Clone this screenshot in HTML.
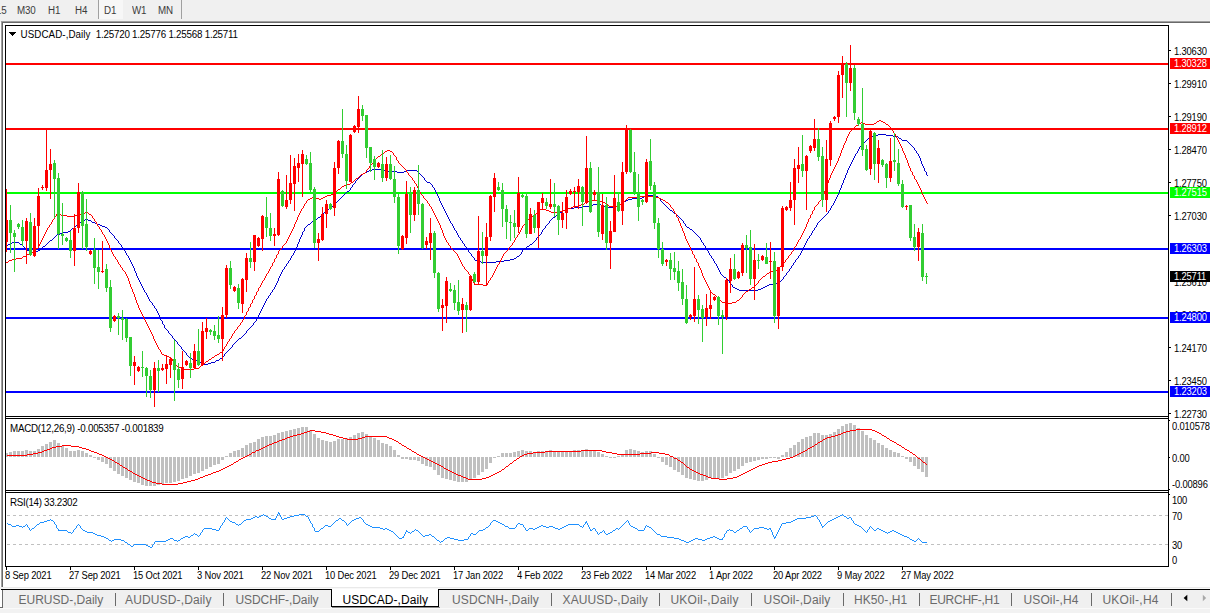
<!DOCTYPE html>
<html><head><meta charset="utf-8"><title>USDCAD-,Daily</title>
<style>
html,body{margin:0;padding:0}
body{width:1210px;height:613px;background:#f0f0f0;position:relative;overflow:hidden;font-family:"Liberation Sans",sans-serif}
.win{position:absolute;left:3px;top:23px;width:1207px;height:564px;background:#fff}
.bl{position:absolute;left:1px;top:21px;width:1px;height:566px;background:#a0a0a0}
.bl2{position:absolute;left:2px;top:22px;width:1px;height:565px;background:#696969}
.bt{position:absolute;left:1px;top:21px;width:1209px;height:1px;background:#a0a0a0}
.bt2{position:absolute;left:2px;top:22px;width:1208px;height:1px;background:#696969}
.t{position:absolute;white-space:nowrap;color:#000;line-height:12px;transform:scaleY(1.1667);transform-origin:0 0}
.ax{font-size:9.4px;letter-spacing:-0.16px}
.ttl{font-size:9.6px}
.dt{font-size:9.4px;letter-spacing:-0.15px}
.box{position:absolute;left:1170px;width:40px;height:11px;font-size:9.4px;letter-spacing:-0.16px;line-height:11px}
.box span{position:absolute;left:4px;top:-2.5px;transform:scaleY(1.1667);transform-origin:0 0}
.tb{position:absolute;top:1.5px;transform:scaleY(1.1667);transform-origin:0 0;font-size:9.8px;letter-spacing:-0.2px;line-height:13px;color:#3c3c3c}
.tsep{position:absolute;top:0;width:1px;height:19px;background:#a0a0a0}
.d1{position:absolute;left:99px;top:0;width:24px;height:19px;background:#f7f7f7}
.tabbar{position:absolute;left:0;top:589px;width:1210px;height:24px;background:#f0f0f0}
.tabline{position:absolute;left:1px;top:589px;width:1209px;height:1px;background:#000}
.tab{position:absolute;top:593px;font-size:12px;line-height:14px;color:#6a6a6a;white-space:nowrap}
.tab.act{color:#000}
.sep{position:absolute;top:593px;width:1px;height:13px;background:#6a6a6a}
.acttab{position:absolute;left:331px;top:589px;width:108px;height:18px;background:#fff;border-left:1px solid #000;border-right:1px solid #000;border-bottom:1px solid #000;box-sizing:border-box}
.actsh{position:absolute;left:332px;top:607px;width:108px;height:1px;background:#8c8c8c}
.tl1{position:absolute;left:0;top:590px;width:2px;height:17px;background:#fff}
.tl2{position:absolute;left:2px;top:590px;width:1px;height:18px;background:#696969}
.tl3{position:absolute;left:0;top:607px;width:3px;height:1px;background:#696969}
.botstrip{position:absolute;left:0;top:608px;width:1210px;height:5px;background:#f2f2f2;border-top:1px solid #fafafa;box-sizing:border-box}
.g587{position:absolute;left:3px;top:587px;width:1207px;height:1px;background:#e9e9e9}
.g588{position:absolute;left:3px;top:588px;width:1207px;height:1px;background:#f8f8f8}
</style></head><body>
<div class="d1"></div>
<div class="tsep" style="left:98px"></div><div class="tsep" style="left:181px"></div>
<div class="tb" style="left:-4px">15</div><div class="tb" style="left:17px">M30</div><div class="tb" style="left:48px">H1</div><div class="tb" style="left:75px">H4</div><div class="tb" style="left:104px">D1</div><div class="tb" style="left:132px">W1</div><div class="tb" style="left:158px">MN</div>
<div style="position:absolute;left:0;top:22px;width:1px;height:565px;background:#fff"></div><div class="bt"></div><div class="bt2"></div><div class="bl"></div><div class="bl2"></div>
<div class="win"></div>
<div class="tabbar"></div><div class="tabline"></div><div class="acttab"></div><div class="actsh"></div><div class="tl1"></div><div class="tl2"></div><div class="tl3"></div>
<div class="sep" style="left:115px"></div><div class="sep" style="left:223px"></div><div class="sep" style="left:551px"></div><div class="sep" style="left:659px"></div><div class="sep" style="left:751px"></div><div class="sep" style="left:843px"></div><div class="sep" style="left:919px"></div><div class="sep" style="left:1011px"></div><div class="sep" style="left:1091px"></div><div class="sep" style="left:1171px"></div><div class="tab" style="left:18.5px;letter-spacing:0.009px">EURUSD-,Daily</div><div class="tab" style="left:125px;letter-spacing:0.147px">AUDUSD-,Daily</div><div class="tab" style="left:235.5px;letter-spacing:-0.077px">USDCHF-,Daily</div><div class="tab act" style="left:342.4px;letter-spacing:0.070px">USDCAD-,Daily</div><div class="tab" style="left:452px;letter-spacing:0.120px">USDCNH-,Daily</div><div class="tab" style="left:562.6px;letter-spacing:0.099px">XAUUSD-,Daily</div><div class="tab" style="left:670.4px;letter-spacing:0.255px">UKOil-,Daily</div><div class="tab" style="left:763.6px;letter-spacing:0.121px">USOil-,Daily</div><div class="tab" style="left:853.9px;letter-spacing:0.102px">HK50-,H1</div><div class="tab" style="left:929.5px;letter-spacing:-0.277px">EURCHF-,H1</div><div class="tab" style="left:1023.5px;letter-spacing:0.120px">USOil-,H4</div><div class="tab" style="left:1102.4px;letter-spacing:0.265px">UKOil-,H4</div>
<div class="botstrip"></div>
<div class="g587"></div><div class="g588"></div>
<svg width="1210" height="613" style="position:absolute;left:0;top:0" shape-rendering="crispEdges"><rect x="5" y="25" width="1" height="542" fill="#000"/><rect x="5" y="25" width="1164" height="1" fill="#000"/><rect x="1168" y="25" width="1" height="542" fill="#000"/><rect x="5" y="416" width="1164" height="1" fill="#000"/><rect x="5" y="418" width="1164" height="1" fill="#000"/><rect x="5" y="490" width="1164" height="1" fill="#000"/><rect x="5" y="492" width="1164" height="1" fill="#000"/><rect x="5" y="566" width="1164" height="1" fill="#000"/><rect x="6" y="63" width="1162" height="2" fill="#ff0000"/><rect x="6" y="128" width="1162" height="2" fill="#ff0000"/><rect x="6" y="192" width="1162" height="2" fill="#00ff00"/><rect x="6" y="248" width="1162" height="2" fill="#0000ff"/><rect x="6" y="317" width="1162" height="2" fill="#0000ff"/><rect x="6" y="391" width="1162" height="2" fill="#0000ff"/><path d="M131 262h1v1h-1zM288 262h1v1h-1zM481 262h15v1h-15zM714 262h1v1h-1zM794 262h1v1h-1zM367 171h2v1h-2zM388 171h9v1h-9zM404 171h2v1h-2zM417 171h1v1h-1zM847 171h1v1h-1zM925 171h1v1h-1zM56 235h1v1h-1zM113 235h1v1h-1zM301 235h1v1h-1zM458 235h1v1h-1zM539 235h1v1h-1zM697 235h1v1h-1zM810 235h1v1h-1zM127 255h1v1h-1zM292 255h1v1h-1zM471 255h1v1h-1zM519 255h1v1h-1zM710 255h1v1h-1zM799 255h1v1h-1zM850 164h1v1h-1zM922 164h1v1h-1zM143 289h1v1h-1zM273 289h1v1h-1zM737 289h2v1h-2zM758 289h3v1h-3zM343 195h1v1h-1zM437 195h1v1h-1zM646 195h9v1h-9zM837 195h1v1h-1zM130 260h1v1h-1zM289 260h1v1h-1zM475 260h2v1h-2zM504 260h6v1h-6zM713 260h1v1h-1zM795 260h1v1h-1zM10 243h2v1h-2zM19 243h1v1h-1zM47 243h1v1h-1zM119 243h1v1h-1zM298 243h1v1h-1zM463 243h1v1h-1zM532 243h1v1h-1zM703 243h1v1h-1zM805 243h1v1h-1zM184 351h1v1h-1zM227 351h1v1h-1zM54 237h1v1h-1zM114 237h1v1h-1zM300 237h1v1h-1zM459 237h1v1h-1zM537 237h1v1h-1zM699 237h1v1h-1zM809 237h1v1h-1zM162 323h1v1h-1zM253 323h1v1h-1zM318 217h2v1h-2zM448 217h1v1h-1zM553 217h2v1h-2zM679 217h1v1h-1zM823 217h1v1h-1zM330 207h1v1h-1zM443 207h1v1h-1zM574 207h9v1h-9zM605 207h9v1h-9zM667 207h1v1h-1zM831 207h1v1h-1zM326 210h1v1h-1zM444 210h1v1h-1zM563 210h3v1h-3zM670 210h2v1h-2zM829 210h1v1h-1zM165 328h1v1h-1zM249 328h1v1h-1zM85 219h3v1h-3zM316 219h1v1h-1zM449 219h1v1h-1zM551 219h1v1h-1zM681 219h1v1h-1zM821 219h1v1h-1zM140 283h1v1h-1zM276 283h1v1h-1zM730 283h1v1h-1zM773 283h4v1h-4zM144 290h1v1h-1zM272 290h1v1h-1zM739 290h19v1h-19zM369 170h3v1h-3zM384 170h4v1h-4zM406 170h11v1h-11zM847 170h1v1h-1zM924 170h1v1h-1zM182 349h1v1h-1zM229 349h1v1h-1zM340 198h1v1h-1zM439 198h1v1h-1zM632 198h10v1h-10zM659 198h1v1h-1zM836 198h1v1h-1zM128 256h1v1h-1zM291 256h1v1h-1zM472 256h1v1h-1zM517 256h2v1h-2zM711 256h1v1h-1zM798 256h1v1h-1zM360 176h1v1h-1zM422 176h1v1h-1zM845 176h1v1h-1zM357 179h1v1h-1zM424 179h1v1h-1zM844 179h1v1h-1zM142 286h1v1h-1zM275 286h1v1h-1zM732 286h1v1h-1zM765 286h2v1h-2zM861 145h1v1h-1zM911 145h1v1h-1zM197 361h3v1h-3zM215 361h1v1h-1zM156 310h1v1h-1zM261 310h1v1h-1zM53 238h1v1h-1zM115 238h1v1h-1zM300 238h1v1h-1zM460 238h1v1h-1zM536 238h1v1h-1zM700 238h1v1h-1zM808 238h1v1h-1zM142 287h1v1h-1zM274 287h1v1h-1zM733 287h2v1h-2zM763 287h2v1h-2zM320 216h1v1h-1zM447 216h1v1h-1zM555 216h1v1h-1zM678 216h1v1h-1zM824 216h1v1h-1zM129 258h1v1h-1zM290 258h1v1h-1zM474 258h1v1h-1zM514 258h2v1h-2zM712 258h1v1h-1zM797 258h1v1h-1zM78 223h2v1h-2zM95 223h2v1h-2zM310 223h1v1h-1zM451 223h1v1h-1zM548 223h1v1h-1zM684 223h1v1h-1zM817 223h1v1h-1zM874 135h4v1h-4zM886 135h7v1h-7zM163 324h1v1h-1zM253 324h1v1h-1zM331 206h2v1h-2zM442 206h1v1h-1zM583 206h6v1h-6zM602 206h3v1h-3zM614 206h3v1h-3zM666 206h1v1h-1zM831 206h1v1h-1zM81 221h1v1h-1zM91 221h1v1h-1zM312 221h2v1h-2zM450 221h1v1h-1zM549 221h1v1h-1zM683 221h1v1h-1zM819 221h1v1h-1zM363 173h2v1h-2zM419 173h1v1h-1zM846 173h1v1h-1zM926 173h1v1h-1zM329 208h1v1h-1zM443 208h1v1h-1zM567 208h7v1h-7zM668 208h1v1h-1zM830 208h1v1h-1zM871 136h3v1h-3zM893 136h5v1h-5zM57 234h3v1h-3zM112 234h1v1h-1zM302 234h1v1h-1zM457 234h1v1h-1zM540 234h1v1h-1zM696 234h1v1h-1zM811 234h1v1h-1zM190 358h2v1h-2zM220 358h2v1h-2zM187 355h1v1h-1zM224 355h1v1h-1zM139 281h1v1h-1zM277 281h1v1h-1zM729 281h1v1h-1zM779 281h2v1h-2zM338 200h1v1h-1zM439 200h1v1h-1zM626 200h2v1h-2zM660 200h1v1h-1zM835 200h1v1h-1zM29 251h1v1h-1zM34 251h4v1h-4zM125 251h1v1h-1zM294 251h1v1h-1zM468 251h1v1h-1zM522 251h1v1h-1zM708 251h1v1h-1zM801 251h1v1h-1zM333 205h1v1h-1zM442 205h1v1h-1zM589 205h4v1h-4zM601 205h1v1h-1zM617 205h2v1h-2zM665 205h1v1h-1zM832 205h1v1h-1zM134 268h1v1h-1zM284 268h1v1h-1zM718 268h1v1h-1zM790 268h1v1h-1zM74 227h1v1h-1zM105 227h2v1h-2zM305 227h1v1h-1zM453 227h1v1h-1zM545 227h1v1h-1zM687 227h2v1h-2zM815 227h1v1h-1zM862 144h1v1h-1zM910 144h1v1h-1zM183 350h1v1h-1zM228 350h1v1h-1zM202 363h2v1h-2zM208 363h3v1h-3zM55 236h1v1h-1zM114 236h1v1h-1zM301 236h1v1h-1zM458 236h1v1h-1zM538 236h1v1h-1zM698 236h1v1h-1zM809 236h1v1h-1zM160 317h1v1h-1zM257 317h1v1h-1zM362 174h1v1h-1zM420 174h1v1h-1zM846 174h1v1h-1zM926 174h1v1h-1zM335 203h1v1h-1zM441 203h1v1h-1zM621 203h2v1h-2zM663 203h1v1h-1zM833 203h1v1h-1zM137 277h1v1h-1zM279 277h1v1h-1zM724 277h2v1h-2zM783 277h1v1h-1zM6 245h2v1h-2zM22 245h1v1h-1zM45 245h1v1h-1zM121 245h1v1h-1zM297 245h1v1h-1zM464 245h1v1h-1zM529 245h1v1h-1zM704 245h1v1h-1zM804 245h1v1h-1zM868 138h2v1h-2zM899 138h2v1h-2zM136 274h1v1h-1zM280 274h1v1h-1zM721 274h1v1h-1zM786 274h1v1h-1zM194 360h3v1h-3zM216 360h3v1h-3zM128 257h1v1h-1zM291 257h1v1h-1zM473 257h1v1h-1zM516 257h1v1h-1zM711 257h1v1h-1zM798 257h1v1h-1zM63 232h5v1h-5zM110 232h1v1h-1zM302 232h1v1h-1zM456 232h1v1h-1zM541 232h1v1h-1zM694 232h1v1h-1zM812 232h1v1h-1zM77 224h1v1h-1zM97 224h3v1h-3zM308 224h2v1h-2zM452 224h1v1h-1zM547 224h1v1h-1zM685 224h1v1h-1zM817 224h1v1h-1zM23 246h1v1h-1zM43 246h2v1h-2zM121 246h1v1h-1zM297 246h1v1h-1zM465 246h1v1h-1zM527 246h2v1h-2zM705 246h1v1h-1zM804 246h1v1h-1zM341 197h1v1h-1zM438 197h1v1h-1zM642 197h2v1h-2zM658 197h1v1h-1zM836 197h1v1h-1zM80 222h1v1h-1zM92 222h3v1h-3zM311 222h1v1h-1zM450 222h1v1h-1zM549 222h1v1h-1zM683 222h1v1h-1zM818 222h1v1h-1zM26 249h1v1h-1zM40 249h1v1h-1zM124 249h1v1h-1zM295 249h1v1h-1zM467 249h1v1h-1zM523 249h1v1h-1zM706 249h1v1h-1zM802 249h1v1h-1zM179 345h1v1h-1zM232 345h1v1h-1zM126 254h1v1h-1zM293 254h1v1h-1zM471 254h1v1h-1zM520 254h1v1h-1zM709 254h1v1h-1zM800 254h1v1h-1zM27 250h2v1h-2zM38 250h2v1h-2zM124 250h1v1h-1zM295 250h1v1h-1zM468 250h1v1h-1zM522 250h1v1h-1zM707 250h1v1h-1zM802 250h1v1h-1zM204 364h4v1h-4zM850 165h1v1h-1zM922 165h1v1h-1zM161 320h1v1h-1zM256 320h1v1h-1zM866 140h1v1h-1zM902 140h5v1h-5zM359 177h1v1h-1zM423 177h1v1h-1zM845 177h1v1h-1zM865 141h1v1h-1zM907 141h1v1h-1zM327 209h2v1h-2zM444 209h1v1h-1zM566 209h1v1h-1zM669 209h1v1h-1zM830 209h1v1h-1zM141 285h1v1h-1zM275 285h1v1h-1zM732 285h1v1h-1zM767 285h2v1h-2zM82 220h3v1h-3zM88 220h3v1h-3zM314 220h2v1h-2zM449 220h1v1h-1zM550 220h1v1h-1zM682 220h1v1h-1zM820 220h1v1h-1zM358 178h1v1h-1zM424 178h1v1h-1zM844 178h1v1h-1zM12 242h7v1h-7zM48 242h1v1h-1zM118 242h1v1h-1zM298 242h1v1h-1zM462 242h1v1h-1zM533 242h1v1h-1zM702 242h1v1h-1zM806 242h1v1h-1zM321 215h1v1h-1zM447 215h1v1h-1zM556 215h1v1h-1zM677 215h1v1h-1zM825 215h1v1h-1zM52 239h1v1h-1zM116 239h1v1h-1zM299 239h1v1h-1zM460 239h1v1h-1zM536 239h1v1h-1zM700 239h1v1h-1zM807 239h1v1h-1zM353 184h1v1h-1zM431 184h1v1h-1zM842 184h1v1h-1zM147 296h1v1h-1zM268 296h1v1h-1zM342 196h1v1h-1zM438 196h1v1h-1zM644 196h2v1h-2zM655 196h3v1h-3zM837 196h1v1h-1zM355 182h1v1h-1zM427 182h3v1h-3zM843 182h1v1h-1zM200 362h2v1h-2zM211 362h4v1h-4zM372 169h12v1h-12zM848 169h1v1h-1zM924 169h1v1h-1zM132 264h1v1h-1zM286 264h1v1h-1zM716 264h1v1h-1zM793 264h1v1h-1zM186 354h1v1h-1zM224 354h1v1h-1zM130 261h1v1h-1zM288 261h1v1h-1zM477 261h4v1h-4zM496 261h8v1h-8zM714 261h1v1h-1zM795 261h1v1h-1zM71 229h1v1h-1zM108 229h1v1h-1zM304 229h1v1h-1zM454 229h1v1h-1zM543 229h1v1h-1zM690 229h2v1h-2zM814 229h1v1h-1zM324 212h1v1h-1zM445 212h1v1h-1zM560 212h2v1h-2zM673 212h1v1h-1zM828 212h1v1h-1zM350 188h1v1h-1zM434 188h1v1h-1zM840 188h1v1h-1zM365 172h2v1h-2zM397 172h7v1h-7zM418 172h1v1h-1zM847 172h1v1h-1zM926 172h1v1h-1zM129 259h1v1h-1zM290 259h1v1h-1zM474 259h1v1h-1zM510 259h4v1h-4zM713 259h1v1h-1zM796 259h1v1h-1zM166 329h1v1h-1zM248 329h1v1h-1zM30 252h4v1h-4zM125 252h1v1h-1zM294 252h1v1h-1zM469 252h1v1h-1zM521 252h1v1h-1zM708 252h1v1h-1zM801 252h1v1h-1zM135 272h1v1h-1zM281 272h1v1h-1zM720 272h1v1h-1zM787 272h1v1h-1zM70 230h1v1h-1zM109 230h1v1h-1zM304 230h1v1h-1zM455 230h1v1h-1zM542 230h1v1h-1zM692 230h1v1h-1zM813 230h1v1h-1zM25 248h1v1h-1zM41 248h1v1h-1zM123 248h1v1h-1zM296 248h1v1h-1zM466 248h1v1h-1zM524 248h2v1h-2zM706 248h1v1h-1zM803 248h1v1h-1zM126 253h1v1h-1zM293 253h1v1h-1zM470 253h1v1h-1zM521 253h1v1h-1zM709 253h1v1h-1zM800 253h1v1h-1zM351 187h1v1h-1zM433 187h1v1h-1zM841 187h1v1h-1zM164 326h1v1h-1zM251 326h1v1h-1zM157 312h1v1h-1zM260 312h1v1h-1zM72 228h2v1h-2zM107 228h1v1h-1zM304 228h1v1h-1zM454 228h1v1h-1zM544 228h1v1h-1zM689 228h1v1h-1zM814 228h1v1h-1zM136 273h1v1h-1zM281 273h1v1h-1zM720 273h1v1h-1zM786 273h1v1h-1zM141 284h1v1h-1zM276 284h1v1h-1zM731 284h1v1h-1zM769 284h4v1h-4zM336 202h1v1h-1zM440 202h1v1h-1zM623 202h1v1h-1zM662 202h1v1h-1zM834 202h1v1h-1zM361 175h1v1h-1zM421 175h1v1h-1zM845 175h1v1h-1zM927 175h1v1h-1zM160 319h1v1h-1zM256 319h1v1h-1zM168 332h1v1h-1zM246 332h1v1h-1zM49 241h1v1h-1zM118 241h1v1h-1zM299 241h1v1h-1zM462 241h1v1h-1zM534 241h1v1h-1zM701 241h1v1h-1zM806 241h1v1h-1zM171 335h1v1h-1zM243 335h1v1h-1zM852 161h1v1h-1zM921 161h1v1h-1zM137 276h1v1h-1zM279 276h1v1h-1zM723 276h1v1h-1zM784 276h1v1h-1zM334 204h1v1h-1zM441 204h1v1h-1zM593 204h8v1h-8zM619 204h2v1h-2zM664 204h1v1h-1zM833 204h1v1h-1zM858 149h1v1h-1zM914 149h1v1h-1zM75 226h1v1h-1zM102 226h3v1h-3zM306 226h1v1h-1zM453 226h1v1h-1zM545 226h1v1h-1zM686 226h1v1h-1zM816 226h1v1h-1zM176 341h1v1h-1zM236 341h1v1h-1zM175 340h1v1h-1zM237 340h1v1h-1zM144 291h1v1h-1zM272 291h1v1h-1zM323 213h1v1h-1zM446 213h1v1h-1zM559 213h1v1h-1zM674 213h2v1h-2zM827 213h1v1h-1zM68 231h2v1h-2zM109 231h1v1h-1zM303 231h1v1h-1zM456 231h1v1h-1zM542 231h1v1h-1zM693 231h1v1h-1zM812 231h1v1h-1zM139 280h1v1h-1zM278 280h1v1h-1zM728 280h1v1h-1zM781 280h1v1h-1zM50 240h2v1h-2zM117 240h1v1h-1zM299 240h1v1h-1zM461 240h1v1h-1zM535 240h1v1h-1zM701 240h1v1h-1zM807 240h1v1h-1zM860 146h1v1h-1zM912 146h1v1h-1zM131 263h1v1h-1zM287 263h1v1h-1zM715 263h1v1h-1zM793 263h1v1h-1zM852 160h1v1h-1zM920 160h1v1h-1zM325 211h1v1h-1zM445 211h1v1h-1zM562 211h1v1h-1zM672 211h1v1h-1zM828 211h1v1h-1zM347 191h2v1h-2zM435 191h1v1h-1zM839 191h1v1h-1zM337 201h1v1h-1zM440 201h1v1h-1zM624 201h2v1h-2zM661 201h1v1h-1zM834 201h1v1h-1zM143 288h1v1h-1zM274 288h1v1h-1zM735 288h2v1h-2zM761 288h2v1h-2zM135 271h1v1h-1zM282 271h1v1h-1zM719 271h1v1h-1zM788 271h1v1h-1zM76 225h1v1h-1zM100 225h2v1h-2zM307 225h1v1h-1zM452 225h1v1h-1zM546 225h1v1h-1zM685 225h1v1h-1zM816 225h1v1h-1zM164 325h1v1h-1zM252 325h1v1h-1zM149 300h1v1h-1zM266 300h1v1h-1zM134 270h1v1h-1zM282 270h1v1h-1zM719 270h1v1h-1zM789 270h1v1h-1zM160 318h1v1h-1zM257 318h1v1h-1zM173 338h1v1h-1zM239 338h2v1h-2zM150 301h1v1h-1zM265 301h1v1h-1zM181 347h1v1h-1zM231 347h1v1h-1zM849 167h1v1h-1zM923 167h1v1h-1zM878 134h8v1h-8zM154 307h1v1h-1zM262 307h1v1h-1zM185 352h1v1h-1zM226 352h1v1h-1zM140 282h1v1h-1zM277 282h1v1h-1zM729 282h1v1h-1zM777 282h2v1h-2zM322 214h1v1h-1zM446 214h1v1h-1zM557 214h2v1h-2zM676 214h1v1h-1zM826 214h1v1h-1zM186 353h1v1h-1zM225 353h1v1h-1zM192 359h2v1h-2zM219 359h1v1h-1zM853 159h1v1h-1zM920 159h1v1h-1zM8 244h2v1h-2zM20 244h2v1h-2zM46 244h1v1h-1zM120 244h1v1h-1zM297 244h1v1h-1zM464 244h1v1h-1zM530 244h2v1h-2zM703 244h1v1h-1zM805 244h1v1h-1zM168 331h1v1h-1zM246 331h1v1h-1zM317 218h1v1h-1zM448 218h1v1h-1zM552 218h1v1h-1zM680 218h1v1h-1zM822 218h1v1h-1zM188 356h1v1h-1zM223 356h1v1h-1zM859 147h1v1h-1zM913 147h1v1h-1zM864 142h1v1h-1zM908 142h1v1h-1zM857 152h1v1h-1zM916 152h1v1h-1zM349 190h1v1h-1zM435 190h1v1h-1zM839 190h1v1h-1zM856 153h1v1h-1zM917 153h1v1h-1zM177 343h1v1h-1zM234 343h1v1h-1zM355 181h1v1h-1zM426 181h1v1h-1zM843 181h1v1h-1zM859 148h1v1h-1zM914 148h1v1h-1zM149 299h1v1h-1zM266 299h1v1h-1zM178 344h1v1h-1zM233 344h1v1h-1zM138 278h1v1h-1zM278 278h1v1h-1zM726 278h1v1h-1zM783 278h1v1h-1zM339 199h1v1h-1zM439 199h1v1h-1zM628 199h4v1h-4zM660 199h1v1h-1zM835 199h1v1h-1zM855 155h1v1h-1zM918 155h1v1h-1zM24 247h1v1h-1zM42 247h1v1h-1zM122 247h1v1h-1zM296 247h1v1h-1zM466 247h1v1h-1zM526 247h1v1h-1zM705 247h1v1h-1zM803 247h1v1h-1zM356 180h1v1h-1zM425 180h1v1h-1zM843 180h1v1h-1zM167 330h1v1h-1zM247 330h1v1h-1zM148 298h1v1h-1zM267 298h1v1h-1zM60 233h3v1h-3zM111 233h1v1h-1zM302 233h1v1h-1zM457 233h1v1h-1zM541 233h1v1h-1zM695 233h1v1h-1zM811 233h1v1h-1zM134 269h1v1h-1zM283 269h1v1h-1zM718 269h1v1h-1zM789 269h1v1h-1zM853 158h1v1h-1zM920 158h1v1h-1zM147 295h1v1h-1zM269 295h1v1h-1zM132 265h1v1h-1zM286 265h1v1h-1zM716 265h1v1h-1zM792 265h1v1h-1zM152 304h1v1h-1zM264 304h1v1h-1zM851 162h1v1h-1zM921 162h1v1h-1zM164 327h1v1h-1zM250 327h1v1h-1zM857 151h1v1h-1zM916 151h1v1h-1zM145 292h1v1h-1zM271 292h1v1h-1zM352 185h1v1h-1zM432 185h1v1h-1zM841 185h1v1h-1zM177 342h1v1h-1zM235 342h1v1h-1zM345 193h1v1h-1zM436 193h1v1h-1zM838 193h1v1h-1zM151 302h1v1h-1zM265 302h1v1h-1zM162 322h1v1h-1zM254 322h1v1h-1zM346 192h1v1h-1zM436 192h1v1h-1zM839 192h1v1h-1zM855 154h1v1h-1zM918 154h1v1h-1zM156 309h1v1h-1zM261 309h1v1h-1zM854 157h1v1h-1zM919 157h1v1h-1zM159 316h1v1h-1zM258 316h1v1h-1zM133 266h1v1h-1zM285 266h1v1h-1zM717 266h1v1h-1zM791 266h1v1h-1zM148 297h1v1h-1zM268 297h1v1h-1zM169 333h1v1h-1zM245 333h1v1h-1zM181 348h1v1h-1zM230 348h1v1h-1zM352 186h1v1h-1zM432 186h1v1h-1zM841 186h1v1h-1zM174 339h1v1h-1zM238 339h1v1h-1zM172 336h1v1h-1zM242 336h1v1h-1zM858 150h1v1h-1zM915 150h1v1h-1zM867 139h1v1h-1zM901 139h1v1h-1zM344 194h1v1h-1zM437 194h1v1h-1zM838 194h1v1h-1zM133 267h1v1h-1zM284 267h1v1h-1zM717 267h1v1h-1zM791 267h1v1h-1zM162 321h1v1h-1zM255 321h1v1h-1zM158 314h1v1h-1zM259 314h1v1h-1zM354 183h1v1h-1zM430 183h1v1h-1zM842 183h1v1h-1zM854 156h1v1h-1zM919 156h1v1h-1zM870 137h1v1h-1zM898 137h1v1h-1zM157 311h1v1h-1zM260 311h1v1h-1zM172 337h1v1h-1zM241 337h1v1h-1zM146 294h1v1h-1zM270 294h1v1h-1zM138 279h1v1h-1zM278 279h1v1h-1zM727 279h1v1h-1zM782 279h1v1h-1zM350 189h1v1h-1zM434 189h1v1h-1zM840 189h1v1h-1zM153 305h1v1h-1zM263 305h1v1h-1zM152 303h1v1h-1zM264 303h1v1h-1zM170 334h1v1h-1zM244 334h1v1h-1zM136 275h1v1h-1zM280 275h1v1h-1zM722 275h1v1h-1zM785 275h1v1h-1zM146 293h1v1h-1zM270 293h1v1h-1zM154 306h1v1h-1zM263 306h1v1h-1zM849 166h1v1h-1zM923 166h1v1h-1zM189 357h1v1h-1zM222 357h1v1h-1zM851 163h1v1h-1zM921 163h1v1h-1zM180 346h1v1h-1zM232 346h1v1h-1zM848 168h1v1h-1zM924 168h1v1h-1zM863 143h1v1h-1zM909 143h1v1h-1zM158 313h1v1h-1zM259 313h1v1h-1zM159 315h1v1h-1zM258 315h1v1h-1zM155 308h1v1h-1zM262 308h1v1h-1z" fill="#0000cd"/><path d="M521 228h1v2h-1zM412 178h1v2h-1zM874 123h1v1h-1zM652 196h1v1h-1zM66 215h1v1h-1zM822 197h1v2h-1zM416 184h1v2h-1zM571 207h1v1h-1zM517 235h1v2h-1zM466 270h1v1h-1zM277 254h1v1h-1zM717 297h1v1h-1zM233 333h1v1h-1zM467 271h1v1h-1zM54 217h1v2h-1zM175 363h1v2h-1zM802 233h1v2h-1zM917 182h1v2h-1zM814 207h1v3h-1zM176 365h1v1h-1zM560 211h1v1h-1zM438 221h1v2h-1zM839 156h1v2h-1zM885 123h1v1h-1zM851 130h1v1h-1zM798 240h1v2h-1zM662 199h1v1h-1zM896 136h1v2h-1zM740 298h1v1h-1zM505 252h1v1h-1zM241 322h1v1h-1zM899 142h1v2h-1zM925 199h1v2h-1zM394 155h1v1h-1zM520 230h1v2h-1zM386 151h1v1h-1zM540 209h1v1h-1zM680 223h1v3h-1zM794 247h1v2h-1zM617 205h1v1h-1zM709 288h1v2h-1zM501 258h1v2h-1zM681 226h1v2h-1zM712 293h1v1h-1zM127 276h1v2h-1zM713 294h1v1h-1zM746 291h1v1h-1zM128 278h1v3h-1zM232 334h1v2h-1zM910 168h1v3h-1zM687 241h1v2h-1zM134 294h1v3h-1zM589 200h1v1h-1zM272 263h1v3h-1zM131 287h1v2h-1zM84 213h1v1h-1zM558 212h1v1h-1zM350 183h1v1h-1zM785 260h1v2h-1zM590 200h1v1h-1zM138 305h1v3h-1zM694 255h1v3h-1zM698 263h1v3h-1zM738 300h1v1h-1zM80 214h1v1h-1zM837 161h1v2h-1zM29 254h1v1h-1zM619 204h1v1h-1zM451 248h1v1h-1zM25 256h1v1h-1zM308 199h1v1h-1zM777 269h1v1h-1zM145 320h1v2h-1zM846 138h1v3h-1zM615 206h1v1h-1zM291 231h1v2h-1zM793 249h1v2h-1zM500 260h1v2h-1zM719 299h1v1h-1zM358 177h1v1h-1zM41 240h1v2h-1zM634 197h1v1h-1zM592 200h1v1h-1zM857 125h1v1h-1zM177 366h1v1h-1zM373 161h1v2h-1zM436 217h1v2h-1zM496 267h1v2h-1zM784 262h1v1h-1zM761 278h1v1h-1zM108 243h1v2h-1zM283 245h1v1h-1zM443 233h1v3h-1zM926 201h1v2h-1zM898 140h1v2h-1zM581 204h1v1h-1zM109 245h1v3h-1zM927 203h1v1h-1zM267 273h1v1h-1zM396 157h1v3h-1zM836 163h1v2h-1zM729 303h1v1h-1zM338 189h1v1h-1zM250 304h1v3h-1zM807 222h1v2h-1zM707 284h1v2h-1zM905 155h1v3h-1zM753 287h1v1h-1zM263 280h1v1h-1zM832 171h1v2h-1zM126 274h1v2h-1zM276 255h1v3h-1zM180 367h1v1h-1zM428 203h1v1h-1zM637 197h1v1h-1zM246 312h1v3h-1zM499 262h1v2h-1zM169 357h1v1h-1zM377 157h1v1h-1zM40 242h1v2h-1zM429 204h1v2h-1zM912 172h1v3h-1zM93 218h1v1h-1zM804 229h1v2h-1zM259 287h1v1h-1zM526 221h1v2h-1zM162 354h1v1h-1zM97 224h1v2h-1zM35 249h1v1h-1zM625 200h1v1h-1zM207 361h1v1h-1zM495 269h1v2h-1zM696 259h1v3h-1zM282 246h1v2h-1zM622 203h1v1h-1zM340 188h1v1h-1zM238 326h1v1h-1zM143 316h1v2h-1zM491 277h1v1h-1zM875 123h1v1h-1zM703 276h1v2h-1zM453 250h1v1h-1zM572 207h1v1h-1zM648 196h1v1h-1zM610 206h1v1h-1zM831 173h1v2h-1zM262 281h1v2h-1zM154 339h1v2h-1zM556 212h1v1h-1zM803 231h1v2h-1zM258 288h1v3h-1zM815 206h1v1h-1zM107 241h1v2h-1zM799 239h1v1h-1zM139 308h1v2h-1zM254 296h1v3h-1zM541 209h1v1h-1zM903 151h1v2h-1zM237 327h1v2h-1zM383 153h1v1h-1zM537 211h1v2h-1zM294 224h1v3h-1zM613 206h1v1h-1zM724 302h1v1h-1zM714 294h1v1h-1zM747 291h1v1h-1zM430 206h1v1h-1zM213 357h1v1h-1zM559 212h1v1h-1zM96 222h1v2h-1zM99 227h1v2h-1zM49 225h1v2h-1zM591 200h1v1h-1zM509 247h1v1h-1zM850 131h1v1h-1zM921 190h1v3h-1zM81 214h1v1h-1zM504 253h1v1h-1zM810 215h1v3h-1zM45 232h1v2h-1zM702 273h1v3h-1zM673 209h1v2h-1zM68 216h1v1h-1zM677 217h1v1h-1zM309 199h1v1h-1zM252 300h1v3h-1zM727 303h1v1h-1zM835 165h1v2h-1zM26 255h1v1h-1zM778 268h1v1h-1zM616 206h1v1h-1zM459 258h1v2h-1zM456 253h1v1h-1zM335 192h1v1h-1zM728 303h1v1h-1zM684 233h1v3h-1zM185 369h1v1h-1zM635 197h1v1h-1zM789 255h1v1h-1zM331 194h1v1h-1zM593 200h1v1h-1zM355 179h1v1h-1zM178 366h1v1h-1zM636 197h1v1h-1zM888 125h1v1h-1zM34 250h1v1h-1zM825 189h1v2h-1zM366 170h1v2h-1zM268 271h1v2h-1zM307 200h1v1h-1zM730 303h1v1h-1zM776 270h1v1h-1zM44 234h1v2h-1zM809 218h1v1h-1zM578 205h1v1h-1zM411 177h1v1h-1zM646 196h1v1h-1zM120 265h1v2h-1zM415 183h1v1h-1zM715 295h1v1h-1zM264 278h1v2h-1zM465 269h1v1h-1zM357 178h1v1h-1zM303 206h1v2h-1zM608 205h1v1h-1zM788 256h1v2h-1zM322 198h1v1h-1zM287 239h1v2h-1zM299 213h1v2h-1zM920 188h1v2h-1zM6 262h1v1h-1zM884 122h1v1h-1zM204 363h1v1h-1zM580 205h1v1h-1zM675 213h1v1h-1zM824 191h1v3h-1zM871 124h1v1h-1zM676 214h1v3h-1zM365 172h1v1h-1zM457 254h1v2h-1zM649 196h1v1h-1zM458 256h1v2h-1zM722 302h1v1h-1zM682 228h1v3h-1zM55 216h1v1h-1zM483 285h1v1h-1zM711 292h1v1h-1zM530 217h1v1h-1zM569 208h1v1h-1zM689 245h1v2h-1zM565 210h1v1h-1zM764 276h1v1h-1zM133 292h1v2h-1zM51 222h1v2h-1zM494 271h1v2h-1zM286 241h1v2h-1zM890 127h1v2h-1zM298 215h1v2h-1zM242 320h1v2h-1zM79 214h1v1h-1zM490 278h1v2h-1zM114 256h1v1h-1zM413 180h1v1h-1zM118 262h1v2h-1zM614 206h1v1h-1zM417 186h1v2h-1zM147 324h1v2h-1zM725 302h1v1h-1zM486 285h1v1h-1zM514 240h1v2h-1zM183 369h1v1h-1zM471 277h1v2h-1zM214 356h1v1h-1zM164 355h1v1h-1zM856 125h1v1h-1zM827 183h1v3h-1zM439 223h1v2h-1zM348 184h1v1h-1zM226 344h1v2h-1zM318 198h1v1h-1zM445 238h1v2h-1zM655 197h1v1h-1zM69 216h1v1h-1zM900 144h1v2h-1zM736 301h1v1h-1zM398 161h1v2h-1zM194 368h1v1h-1zM752 287h1v1h-1zM775 270h1v1h-1zM907 160h1v3h-1zM186 369h1v1h-1zM858 124h1v1h-1zM332 194h1v1h-1zM790 254h1v1h-1zM427 201h1v2h-1zM513 242h1v1h-1zM688 243h1v2h-1zM914 176h1v3h-1zM11 260h1v1h-1zM229 339h1v2h-1zM881 121h1v1h-1zM892 130h1v1h-1zM838 158h1v3h-1zM321 198h1v1h-1zM759 280h1v1h-1zM225 346h1v1h-1zM404 168h1v1h-1zM869 124h1v1h-1zM117 260h1v2h-1zM405 169h1v1h-1zM754 286h1v1h-1zM579 205h1v1h-1zM705 280h1v2h-1zM220 352h1v1h-1zM197 368h1v1h-1zM149 328h1v2h-1zM647 196h1v1h-1zM61 215h1v1h-1zM480 284h1v1h-1zM305 203h1v1h-1zM806 224h1v3h-1zM469 274h1v1h-1zM601 201h1v1h-1zM470 275h1v2h-1zM174 362h1v1h-1zM481 284h1v1h-1zM156 343h1v2h-1zM301 209h1v2h-1zM323 197h1v1h-1zM437 219h1v2h-1zM370 165h1v1h-1zM33 251h1v1h-1zM319 199h1v1h-1zM297 217h1v3h-1zM201 365h1v1h-1zM758 281h1v2h-1zM872 124h1v1h-1zM224 347h1v2h-1zM280 249h1v1h-1zM577 206h1v1h-1zM650 196h1v1h-1zM64 215h1v1h-1zM362 174h1v1h-1zM845 141h1v2h-1zM906 158h1v2h-1zM723 302h1v1h-1zM425 199h1v1h-1zM484 285h1v1h-1zM531 217h1v1h-1zM816 205h1v1h-1zM87 212h1v1h-1zM181 368h1v1h-1zM53 219h1v1h-1zM765 275h1v1h-1zM98 226h1v1h-1zM101 230h1v2h-1zM697 262h1v1h-1zM923 195h1v2h-1zM203 364h1v1h-1zM75 215h1v1h-1zM369 166h1v2h-1zM523 225h1v1h-1zM384 152h1v1h-1zM538 210h1v1h-1zM67 216h1v1h-1zM364 173h1v1h-1zM704 278h1v2h-1zM519 232h1v2h-1zM679 221h1v2h-1zM718 298h1v1h-1zM819 201h1v1h-1zM864 123h1v1h-1zM461 262h1v2h-1zM155 341h1v2h-1zM275 258h1v1h-1zM158 347h1v2h-1zM515 238h1v2h-1zM130 284h1v3h-1zM745 292h1v1h-1zM510 246h1v1h-1zM629 197h1v1h-1zM326 196h1v1h-1zM211 358h1v1h-1zM9 260h1v1h-1zM231 336h1v2h-1zM588 201h1v1h-1zM349 184h1v1h-1zM887 124h1v1h-1zM879 120h1v1h-1zM811 214h1v1h-1zM660 198h1v1h-1zM140 310h1v2h-1zM27 254h1v1h-1zM314 198h1v1h-1zM23 256h1v1h-1zM195 368h1v1h-1zM606 204h1v1h-1zM234 331h1v2h-1zM743 294h1v1h-1zM479 284h1v1h-1zM855 126h1v1h-1zM431 207h1v2h-1zM632 197h1v1h-1zM274 259h1v3h-1zM89 214h1v1h-1zM100 229h1v1h-1zM695 258h1v1h-1zM270 267h1v2h-1zM922 193h1v2h-1zM253 299h1v1h-1zM221 352h1v1h-1zM575 206h1v1h-1zM266 274h1v2h-1zM62 215h1v1h-1zM751 288h1v1h-1zM293 227h1v2h-1zM217 354h1v1h-1zM460 260h1v2h-1zM774 271h1v1h-1zM720 300h1v1h-1zM721 301h1v1h-1zM14 259h1v1h-1zM482 284h1v1h-1zM691 250h1v1h-1zM135 297h1v3h-1zM551 212h1v1h-1zM320 199h1v1h-1zM781 265h1v1h-1zM826 186h1v3h-1zM624 201h1v1h-1zM400 164h1v1h-1zM142 314h1v2h-1zM401 165h1v1h-1zM65 215h1v1h-1zM339 189h1v1h-1zM834 167h1v2h-1zM419 190h1v2h-1zM566 209h1v1h-1zM248 308h1v3h-1zM830 175h1v3h-1zM842 148h1v2h-1zM288 237h1v2h-1zM300 211h1v2h-1zM374 160h1v1h-1zM473 281h1v2h-1zM554 212h1v1h-1zM883 122h1v1h-1zM440 225h1v3h-1zM347 184h1v1h-1zM284 244h1v1h-1zM757 283h1v1h-1zM279 250h1v1h-1zM902 148h1v3h-1zM444 236h1v2h-1zM833 169h1v2h-1zM820 200h1v1h-1zM611 206h1v1h-1zM603 202h1v1h-1zM683 231h1v2h-1zM630 197h1v1h-1zM52 220h1v2h-1zM841 150h1v3h-1zM557 212h1v1h-1zM690 247h1v3h-1zM916 180h1v2h-1zM78 214h1v1h-1zM208 360h1v1h-1zM345 185h1v1h-1zM48 227h1v1h-1zM880 120h1v1h-1zM737 300h1v1h-1zM891 129h1v1h-1zM849 132h1v2h-1zM315 198h1v1h-1zM402 166h1v1h-1zM518 234h1v1h-1zM403 167h1v1h-1zM503 254h1v2h-1zM59 214h1v1h-1zM24 256h1v1h-1zM119 264h1v1h-1zM191 369h1v1h-1zM418 188h1v2h-1zM148 326h1v2h-1zM772 271h1v1h-1zM60 214h1v1h-1zM151 332h1v2h-1zM641 196h1v1h-1zM329 195h1v1h-1zM12 259h1v1h-1zM472 279h1v2h-1zM230 338h1v1h-1zM633 197h1v1h-1zM744 293h1v1h-1zM210 359h1v1h-1zM90 214h1v1h-1zM840 153h1v3h-1zM587 202h1v1h-1zM317 198h1v1h-1zM549 211h1v1h-1zM878 121h1v1h-1zM848 134h1v2h-1zM47 228h1v2h-1zM111 250h1v2h-1zM446 240h1v2h-1zM901 146h1v2h-1zM449 245h1v1h-1zM576 206h1v1h-1zM866 124h1v1h-1zM502 256h1v2h-1zM306 201h1v2h-1zM43 236h1v2h-1zM644 196h1v1h-1zM748 290h1v1h-1zM15 259h1v1h-1zM129 281h1v3h-1zM854 127h1v1h-1zM290 233h1v2h-1zM302 208h1v1h-1zM915 179h1v1h-1zM918 184h1v2h-1zM787 258h1v1h-1zM889 126h1v1h-1zM893 131h1v2h-1zM782 264h1v1h-1zM553 212h1v1h-1zM699 266h1v2h-1zM663 200h1v1h-1zM621 203h1v1h-1zM847 136h1v2h-1zM363 173h1v1h-1zM823 194h1v3h-1zM706 282h1v2h-1zM121 267h1v1h-1zM750 289h1v1h-1zM716 296h1v1h-1zM150 330h1v2h-1zM42 238h1v2h-1zM336 191h1v1h-1zM609 206h1v1h-1zM567 209h1v1h-1zM497 265h1v2h-1zM766 274h1v1h-1zM92 216h1v2h-1zM529 218h1v1h-1zM38 246h1v2h-1zM157 345h1v2h-1zM160 350h1v2h-1zM289 235h1v2h-1zM555 212h1v1h-1zM245 315h1v1h-1zM524 224h1v1h-1zM493 273h1v2h-1zM623 202h1v1h-1zM447 242h1v1h-1zM312 197h1v1h-1zM285 243h1v1h-1zM77 214h1v1h-1zM489 280h1v1h-1zM382 153h1v1h-1zM57 213h1v1h-1zM612 206h1v1h-1zM604 202h1v1h-1zM639 196h1v1h-1zM605 203h1v1h-1zM805 227h1v2h-1zM212 357h1v1h-1zM913 175h1v1h-1zM631 197h1v1h-1zM433 211h1v2h-1zM328 195h1v1h-1zM37 248h1v1h-1zM801 235h1v2h-1zM585 202h1v1h-1zM244 316h1v3h-1zM346 185h1v1h-1zM102 232h1v2h-1zM393 153h1v2h-1zM492 275h1v2h-1zM895 134h1v2h-1zM296 220h1v2h-1zM316 198h1v1h-1zM797 242h1v2h-1zM734 302h1v1h-1zM240 323h1v2h-1zM407 172h1v1h-1zM726 303h1v1h-1zM488 281h1v2h-1zM535 214h1v1h-1zM192 369h1v1h-1zM21 258h1v1h-1zM773 271h1v1h-1zM235 330h1v1h-1zM642 196h1v1h-1zM56 214h1v2h-1zM330 195h1v1h-1zM475 284h1v1h-1zM193 369h1v1h-1zM13 259h1v1h-1zM909 166h1v2h-1zM159 349h1v1h-1zM170 358h1v1h-1zM94 219h1v2h-1zM271 266h1v1h-1zM886 124h1v1h-1zM742 295h1v2h-1zM667 202h1v1h-1zM800 237h1v2h-1zM812 211h1v3h-1zM550 211h1v1h-1zM668 203h1v1h-1zM389 150h1v1h-1zM399 163h1v1h-1zM295 222h1v2h-1zM141 312h1v2h-1zM144 318h1v2h-1zM796 244h1v2h-1zM867 124h1v1h-1zM645 196h1v1h-1zM219 353h1v1h-1zM478 284h1v1h-1zM792 251h1v1h-1zM356 178h1v1h-1zM749 289h1v1h-1zM215 355h1v1h-1zM599 201h1v1h-1zM432 209h1v2h-1zM353 181h1v1h-1zM104 235h1v2h-1zM882 121h1v1h-1zM442 230h1v3h-1zM664 200h1v1h-1zM32 252h1v1h-1zM506 251h1v1h-1zM409 175h1v1h-1zM870 124h1v1h-1zM618 205h1v1h-1zM678 218h1v3h-1zM904 153h1v2h-1zM125 272h1v2h-1zM795 246h1v1h-1zM249 307h1v1h-1zM844 143h1v2h-1zM602 202h1v1h-1zM464 267h1v2h-1zM685 236h1v3h-1zM859 123h1v1h-1zM563 210h1v1h-1zM375 159h1v1h-1zM791 252h1v2h-1zM172 359h1v2h-1zM39 244h1v2h-1zM85 212h1v1h-1zM763 276h1v1h-1zM786 259h1v1h-1zM692 251h1v3h-1zM313 197h1v1h-1zM269 269h1v2h-1zM390 151h1v1h-1zM544 209h1v1h-1zM670 205h1v2h-1zM522 226h1v2h-1zM30 253h1v1h-1zM620 204h1v1h-1zM202 365h1v1h-1zM755 285h1v1h-1zM265 276h1v2h-1zM58 213h1v1h-1zM153 336h1v3h-1zM818 202h1v2h-1zM420 192h1v2h-1zM423 196h1v2h-1zM88 213h1v1h-1zM261 283h1v2h-1zM528 219h1v1h-1zM627 198h1v1h-1zM209 359h1v1h-1zM474 283h1v2h-1zM547 210h1v1h-1zM257 291h1v1h-1zM441 228h1v2h-1zM877 121h1v1h-1zM76 215h1v1h-1zM665 201h1v1h-1zM548 210h1v1h-1zM735 302h1v1h-1zM666 202h1v1h-1zM113 254h1v2h-1zM110 248h1v2h-1zM448 243h1v2h-1zM381 154h1v1h-1zM865 124h1v1h-1zM462 264h1v2h-1zM536 213h1v1h-1zM643 196h1v1h-1zM769 272h1v1h-1zM22 257h1v1h-1zM476 284h1v1h-1zM596 200h1v1h-1zM770 272h1v1h-1zM817 204h1v1h-1zM171 358h1v1h-1zM829 178h1v2h-1zM163 354h1v1h-1zM693 254h1v1h-1zM477 284h1v1h-1zM260 285h1v2h-1zM10 260h1v1h-1zM584 203h1v1h-1zM508 248h1v2h-1zM256 292h1v3h-1zM672 208h1v1h-1zM701 270h1v3h-1zM539 209h1v1h-1zM239 325h1v1h-1zM868 124h1v1h-1zM487 283h1v2h-1zM573 206h1v1h-1zM421 194h1v1h-1zM708 286h1v2h-1zM292 229h1v2h-1zM607 204h1v1h-1zM422 195h1v1h-1zM152 334h1v2h-1zM216 355h1v1h-1zM600 201h1v1h-1zM686 239h1v2h-1zM852 129h1v1h-1zM828 180h1v3h-1zM741 297h1v1h-1zM137 303h1v2h-1zM542 209h1v1h-1zM780 266h1v1h-1zM112 252h1v2h-1zM115 257h1v2h-1zM450 246h1v2h-1zM337 190h1v1h-1zM414 181h1v2h-1zM251 303h1v1h-1zM808 219h1v3h-1zM361 174h1v1h-1zM218 354h1v1h-1zM908 163h1v3h-1zM860 123h1v1h-1zM468 272h1v2h-1zM564 210h1v1h-1zM498 264h1v1h-1zM86 212h1v1h-1zM352 182h1v1h-1zM435 215h1v2h-1zM919 186h1v2h-1zM552 212h1v1h-1zM368 168h1v1h-1zM391 151h1v1h-1zM545 209h1v1h-1zM74 215h1v1h-1zM897 138h1v2h-1zM392 152h1v1h-1zM546 210h1v1h-1zM700 268h1v2h-1zM310 198h1v1h-1zM199 367h1v1h-1zM359 176h1v1h-1zM406 170h1v2h-1zM278 251h1v3h-1zM862 122h1v1h-1zM710 290h1v2h-1zM843 145h1v3h-1zM380 155h1v1h-1zM863 123h1v1h-1zM122 268h1v2h-1zM168 356h1v1h-1zM132 289h1v3h-1zM595 200h1v1h-1zM762 277h1v1h-1zM628 197h1v1h-1zM325 196h1v1h-1zM161 352h1v2h-1zM343 186h1v1h-1zM136 300h1v3h-1zM658 197h1v1h-1zM659 198h1v1h-1zM731 303h1v1h-1zM146 322h1v2h-1zM452 249h1v1h-1zM378 156h1v1h-1zM189 369h1v1h-1zM18 258h1v1h-1zM597 200h1v1h-1zM533 215h1v1h-1zM327 195h1v1h-1zM598 200h1v1h-1zM434 213h1v2h-1zM813 210h1v1h-1zM50 224h1v1h-1zM7 262h1v1h-1zM876 122h1v1h-1zM106 239h1v2h-1zM924 197h1v2h-1zM397 160h1v1h-1zM46 230h1v2h-1zM408 173h1v2h-1zM574 206h1v1h-1zM123 270h1v1h-1zM124 271h1v1h-1zM821 199h1v1h-1zM570 208h1v1h-1zM516 237h1v1h-1zM426 200h1v1h-1zM354 180h1v1h-1zM91 215h1v1h-1zM512 243h1v2h-1zM95 221h1v1h-1zM853 128h1v1h-1zM255 295h1v1h-1zM228 341h1v1h-1zM388 150h1v1h-1zM507 250h1v1h-1zM543 209h1v1h-1zM669 204h1v1h-1zM653 196h1v1h-1zM334 192h1v1h-1zM184 369h1v1h-1zM304 204h1v2h-1zM861 122h1v1h-1zM165 355h1v1h-1zM166 356h1v1h-1zM561 211h1v1h-1zM82 213h1v1h-1zM894 133h1v1h-1zM31 252h1v1h-1zM105 237h1v2h-1zM227 342h1v2h-1zM395 156h1v1h-1zM656 197h1v1h-1zM756 284h1v1h-1zM70 216h1v1h-1zM779 267h1v1h-1zM342 186h1v1h-1zM311 198h1v1h-1zM657 197h1v1h-1zM223 349h1v2h-1zM410 176h1v1h-1zM360 175h1v1h-1zM187 369h1v1h-1zM911 171h1v1h-1zM16 258h1v1h-1zM372 163h1v1h-1zM367 169h1v1h-1zM344 185h1v1h-1zM73 216h1v1h-1zM783 263h1v1h-1zM671 207h1v1h-1zM674 211h1v2h-1zM732 302h1v1h-1zM198 368h1v1h-1zM190 369h1v1h-1zM379 156h1v1h-1zM19 258h1v1h-1zM771 271h1v1h-1zM568 208h1v1h-1zM534 215h1v1h-1zM640 196h1v1h-1zM767 273h1v1h-1zM324 197h1v1h-1zM205 362h1v1h-1zM525 223h1v1h-1zM103 234h1v1h-1zM586 202h1v1h-1zM582 204h1v1h-1zM873 124h1v1h-1zM387 150h1v1h-1zM281 248h1v1h-1zM651 196h1v1h-1zM485 285h1v1h-1zM463 266h1v1h-1zM532 216h1v1h-1zM182 368h1v1h-1zM351 182h1v1h-1zM273 262h1v1h-1zM243 319h1v1h-1zM739 299h1v1h-1zM661 199h1v1h-1zM454 251h1v1h-1zM385 151h1v1h-1zM654 196h1v1h-1zM455 252h1v1h-1zM236 329h1v1h-1zM167 356h1v1h-1zM562 211h1v1h-1zM83 213h1v1h-1zM511 245h1v1h-1zM71 216h1v1h-1zM28 254h1v1h-1zM200 366h1v1h-1zM72 216h1v1h-1zM196 368h1v1h-1zM116 259h1v1h-1zM333 193h1v1h-1zM188 369h1v1h-1zM17 258h1v1h-1zM638 196h1v1h-1zM247 311h1v1h-1zM173 361h1v1h-1zM527 220h1v1h-1zM36 248h1v1h-1zM760 279h1v1h-1zM626 199h1v1h-1zM341 187h1v1h-1zM733 302h1v1h-1zM63 215h1v1h-1zM222 351h1v1h-1zM20 258h1v1h-1zM424 198h1v1h-1zM376 158h1v1h-1zM179 367h1v1h-1zM594 200h1v1h-1zM768 273h1v1h-1zM371 164h1v1h-1zM8 261h1v1h-1zM206 361h1v1h-1zM583 204h1v1h-1z" fill="#ff0000"/><g><rect x="6" y="189" width="1" height="63" fill="#ff0000"/><rect x="6" y="220" width="2" height="22" fill="#ff0000"/><rect x="10" y="205" width="1" height="48" fill="#32cd32"/><rect x="9" y="220" width="3" height="13" fill="#32cd32"/><rect x="14" y="230" width="1" height="42" fill="#32cd32"/><rect x="13" y="233" width="3" height="4" fill="#32cd32"/><rect x="18" y="223" width="1" height="6" fill="#32cd32"/><rect x="17" y="224" width="3" height="3" fill="#32cd32"/><rect x="22" y="220" width="1" height="26" fill="#32cd32"/><rect x="21" y="227" width="3" height="14" fill="#32cd32"/><rect x="26" y="218" width="1" height="46" fill="#ff0000"/><rect x="25" y="221" width="3" height="20" fill="#ff0000"/><rect x="30" y="213" width="1" height="43" fill="#32cd32"/><rect x="29" y="222" width="3" height="33" fill="#32cd32"/><rect x="34" y="218" width="1" height="39" fill="#ff0000"/><rect x="33" y="226" width="3" height="30" fill="#ff0000"/><rect x="38" y="188" width="1" height="59" fill="#ff0000"/><rect x="37" y="196" width="3" height="30" fill="#ff0000"/><rect x="42" y="185" width="1" height="5" fill="#ff0000"/><rect x="41" y="187" width="3" height="1" fill="#ff0000"/><rect x="46" y="129" width="1" height="62" fill="#ff0000"/><rect x="45" y="170" width="3" height="18" fill="#ff0000"/><rect x="50" y="149" width="1" height="50" fill="#ff0000"/><rect x="49" y="164" width="3" height="6" fill="#ff0000"/><rect x="54" y="160" width="1" height="58" fill="#32cd32"/><rect x="53" y="163" width="3" height="16" fill="#32cd32"/><rect x="58" y="173" width="1" height="76" fill="#32cd32"/><rect x="57" y="178" width="3" height="56" fill="#32cd32"/><rect x="62" y="203" width="1" height="42" fill="#32cd32"/><rect x="61" y="234" width="3" height="2" fill="#32cd32"/><rect x="66" y="237" width="1" height="5" fill="#32cd32"/><rect x="65" y="238" width="3" height="3" fill="#32cd32"/><rect x="70" y="231" width="1" height="27" fill="#32cd32"/><rect x="69" y="240" width="3" height="11" fill="#32cd32"/><rect x="74" y="214" width="1" height="52" fill="#ff0000"/><rect x="73" y="228" width="3" height="23" fill="#ff0000"/><rect x="78" y="183" width="1" height="50" fill="#ff0000"/><rect x="77" y="192" width="3" height="36" fill="#ff0000"/><rect x="82" y="191" width="1" height="58" fill="#32cd32"/><rect x="81" y="192" width="3" height="34" fill="#32cd32"/><rect x="86" y="199" width="1" height="52" fill="#32cd32"/><rect x="85" y="224" width="3" height="23" fill="#32cd32"/><rect x="90" y="250" width="1" height="5" fill="#ff0000"/><rect x="89" y="251" width="3" height="3" fill="#ff0000"/><rect x="94" y="238" width="1" height="46" fill="#32cd32"/><rect x="93" y="250" width="3" height="18" fill="#32cd32"/><rect x="98" y="250" width="1" height="39" fill="#32cd32"/><rect x="97" y="267" width="3" height="5" fill="#32cd32"/><rect x="102" y="241" width="1" height="32" fill="#ff0000"/><rect x="101" y="271" width="3" height="1" fill="#ff0000"/><rect x="106" y="264" width="1" height="28" fill="#32cd32"/><rect x="105" y="269" width="3" height="19" fill="#32cd32"/><rect x="110" y="280" width="1" height="52" fill="#32cd32"/><rect x="109" y="287" width="3" height="41" fill="#32cd32"/><rect x="114" y="315" width="1" height="7" fill="#ff0000"/><rect x="113" y="316" width="3" height="5" fill="#ff0000"/><rect x="118" y="313" width="1" height="22" fill="#32cd32"/><rect x="117" y="316" width="3" height="2" fill="#32cd32"/><rect x="122" y="310" width="1" height="30" fill="#32cd32"/><rect x="121" y="318" width="3" height="2" fill="#32cd32"/><rect x="126" y="318" width="1" height="24" fill="#32cd32"/><rect x="125" y="319" width="3" height="19" fill="#32cd32"/><rect x="130" y="337" width="1" height="39" fill="#32cd32"/><rect x="129" y="337" width="3" height="29" fill="#32cd32"/><rect x="134" y="356" width="1" height="29" fill="#ff0000"/><rect x="133" y="362" width="3" height="4" fill="#ff0000"/><rect x="138" y="366" width="1" height="6" fill="#ff0000"/><rect x="137" y="367" width="3" height="4" fill="#ff0000"/><rect x="142" y="351" width="1" height="26" fill="#32cd32"/><rect x="141" y="367" width="3" height="1" fill="#32cd32"/><rect x="146" y="367" width="1" height="30" fill="#32cd32"/><rect x="145" y="368" width="3" height="8" fill="#32cd32"/><rect x="150" y="370" width="1" height="28" fill="#32cd32"/><rect x="149" y="376" width="3" height="14" fill="#32cd32"/><rect x="154" y="362" width="1" height="45" fill="#ff0000"/><rect x="153" y="368" width="3" height="22" fill="#ff0000"/><rect x="158" y="360" width="1" height="32" fill="#32cd32"/><rect x="157" y="368" width="3" height="3" fill="#32cd32"/><rect x="162" y="364" width="1" height="7" fill="#ff0000"/><rect x="161" y="368" width="3" height="2" fill="#ff0000"/><rect x="166" y="355" width="1" height="29" fill="#ff0000"/><rect x="165" y="364" width="3" height="5" fill="#ff0000"/><rect x="170" y="357" width="1" height="21" fill="#ff0000"/><rect x="169" y="359" width="3" height="6" fill="#ff0000"/><rect x="174" y="340" width="1" height="61" fill="#32cd32"/><rect x="173" y="359" width="3" height="11" fill="#32cd32"/><rect x="178" y="363" width="1" height="25" fill="#32cd32"/><rect x="177" y="369" width="3" height="11" fill="#32cd32"/><rect x="182" y="351" width="1" height="38" fill="#ff0000"/><rect x="181" y="367" width="3" height="12" fill="#ff0000"/><rect x="186" y="360" width="1" height="6" fill="#ff0000"/><rect x="185" y="361" width="3" height="4" fill="#ff0000"/><rect x="190" y="353" width="1" height="25" fill="#32cd32"/><rect x="189" y="363" width="3" height="5" fill="#32cd32"/><rect x="194" y="344" width="1" height="25" fill="#ff0000"/><rect x="193" y="351" width="3" height="17" fill="#ff0000"/><rect x="198" y="329" width="1" height="37" fill="#32cd32"/><rect x="197" y="351" width="3" height="14" fill="#32cd32"/><rect x="202" y="322" width="1" height="44" fill="#ff0000"/><rect x="201" y="331" width="3" height="34" fill="#ff0000"/><rect x="206" y="318" width="1" height="21" fill="#ff0000"/><rect x="205" y="328" width="3" height="4" fill="#ff0000"/><rect x="210" y="329" width="1" height="6" fill="#32cd32"/><rect x="209" y="330" width="3" height="2" fill="#32cd32"/><rect x="214" y="325" width="1" height="15" fill="#32cd32"/><rect x="213" y="331" width="3" height="5" fill="#32cd32"/><rect x="218" y="316" width="1" height="27" fill="#32cd32"/><rect x="217" y="335" width="3" height="4" fill="#32cd32"/><rect x="222" y="307" width="1" height="54" fill="#ff0000"/><rect x="221" y="315" width="3" height="24" fill="#ff0000"/><rect x="226" y="265" width="1" height="53" fill="#ff0000"/><rect x="225" y="268" width="3" height="47" fill="#ff0000"/><rect x="230" y="261" width="1" height="28" fill="#32cd32"/><rect x="229" y="268" width="3" height="17" fill="#32cd32"/><rect x="234" y="286" width="1" height="6" fill="#ff0000"/><rect x="233" y="287" width="3" height="4" fill="#ff0000"/><rect x="238" y="284" width="1" height="25" fill="#32cd32"/><rect x="237" y="288" width="3" height="15" fill="#32cd32"/><rect x="242" y="278" width="1" height="35" fill="#ff0000"/><rect x="241" y="279" width="3" height="25" fill="#ff0000"/><rect x="246" y="253" width="1" height="39" fill="#ff0000"/><rect x="245" y="258" width="3" height="22" fill="#ff0000"/><rect x="250" y="242" width="1" height="26" fill="#32cd32"/><rect x="249" y="258" width="3" height="4" fill="#32cd32"/><rect x="254" y="235" width="1" height="36" fill="#ff0000"/><rect x="253" y="235" width="3" height="27" fill="#ff0000"/><rect x="258" y="237" width="1" height="10" fill="#ff0000"/><rect x="257" y="238" width="3" height="8" fill="#ff0000"/><rect x="262" y="215" width="1" height="36" fill="#ff0000"/><rect x="261" y="216" width="3" height="23" fill="#ff0000"/><rect x="266" y="197" width="1" height="40" fill="#32cd32"/><rect x="265" y="217" width="3" height="11" fill="#32cd32"/><rect x="270" y="213" width="1" height="28" fill="#32cd32"/><rect x="269" y="228" width="3" height="8" fill="#32cd32"/><rect x="274" y="228" width="1" height="18" fill="#ff0000"/><rect x="273" y="234" width="3" height="2" fill="#ff0000"/><rect x="278" y="172" width="1" height="64" fill="#ff0000"/><rect x="277" y="179" width="3" height="56" fill="#ff0000"/><rect x="282" y="190" width="1" height="17" fill="#32cd32"/><rect x="281" y="191" width="3" height="15" fill="#32cd32"/><rect x="286" y="175" width="1" height="34" fill="#ff0000"/><rect x="285" y="200" width="3" height="7" fill="#ff0000"/><rect x="290" y="155" width="1" height="49" fill="#ff0000"/><rect x="289" y="183" width="3" height="17" fill="#ff0000"/><rect x="294" y="158" width="1" height="53" fill="#ff0000"/><rect x="293" y="166" width="3" height="18" fill="#ff0000"/><rect x="298" y="154" width="1" height="28" fill="#ff0000"/><rect x="297" y="163" width="3" height="5" fill="#ff0000"/><rect x="302" y="150" width="1" height="47" fill="#ff0000"/><rect x="301" y="154" width="3" height="10" fill="#ff0000"/><rect x="306" y="155" width="1" height="10" fill="#32cd32"/><rect x="305" y="159" width="3" height="5" fill="#32cd32"/><rect x="310" y="152" width="1" height="41" fill="#32cd32"/><rect x="309" y="163" width="3" height="27" fill="#32cd32"/><rect x="314" y="187" width="1" height="61" fill="#32cd32"/><rect x="313" y="189" width="3" height="54" fill="#32cd32"/><rect x="318" y="233" width="1" height="28" fill="#ff0000"/><rect x="317" y="239" width="3" height="4" fill="#ff0000"/><rect x="322" y="207" width="1" height="34" fill="#ff0000"/><rect x="321" y="214" width="3" height="26" fill="#ff0000"/><rect x="326" y="200" width="1" height="28" fill="#ff0000"/><rect x="325" y="204" width="3" height="10" fill="#ff0000"/><rect x="330" y="203" width="1" height="7" fill="#32cd32"/><rect x="329" y="204" width="3" height="5" fill="#32cd32"/><rect x="334" y="162" width="1" height="54" fill="#ff0000"/><rect x="333" y="168" width="3" height="40" fill="#ff0000"/><rect x="338" y="140" width="1" height="34" fill="#ff0000"/><rect x="337" y="141" width="3" height="27" fill="#ff0000"/><rect x="342" y="109" width="1" height="49" fill="#32cd32"/><rect x="341" y="141" width="3" height="13" fill="#32cd32"/><rect x="346" y="145" width="1" height="44" fill="#32cd32"/><rect x="345" y="154" width="3" height="27" fill="#32cd32"/><rect x="350" y="134" width="1" height="48" fill="#ff0000"/><rect x="349" y="135" width="3" height="47" fill="#ff0000"/><rect x="354" y="125" width="1" height="8" fill="#ff0000"/><rect x="353" y="126" width="3" height="6" fill="#ff0000"/><rect x="358" y="96" width="1" height="37" fill="#ff0000"/><rect x="357" y="109" width="3" height="18" fill="#ff0000"/><rect x="362" y="105" width="1" height="16" fill="#32cd32"/><rect x="361" y="109" width="3" height="7" fill="#32cd32"/><rect x="366" y="115" width="1" height="43" fill="#32cd32"/><rect x="365" y="115" width="3" height="33" fill="#32cd32"/><rect x="370" y="147" width="1" height="25" fill="#32cd32"/><rect x="369" y="147" width="3" height="16" fill="#32cd32"/><rect x="374" y="156" width="1" height="24" fill="#32cd32"/><rect x="373" y="159" width="3" height="8" fill="#32cd32"/><rect x="378" y="162" width="1" height="6" fill="#ff0000"/><rect x="377" y="163" width="3" height="4" fill="#ff0000"/><rect x="382" y="150" width="1" height="32" fill="#32cd32"/><rect x="381" y="164" width="3" height="14" fill="#32cd32"/><rect x="386" y="157" width="1" height="24" fill="#ff0000"/><rect x="385" y="164" width="3" height="14" fill="#ff0000"/><rect x="390" y="155" width="1" height="25" fill="#32cd32"/><rect x="389" y="164" width="3" height="15" fill="#32cd32"/><rect x="394" y="166" width="1" height="37" fill="#32cd32"/><rect x="393" y="179" width="3" height="18" fill="#32cd32"/><rect x="398" y="194" width="1" height="60" fill="#32cd32"/><rect x="397" y="197" width="3" height="49" fill="#32cd32"/><rect x="402" y="235" width="1" height="15" fill="#ff0000"/><rect x="401" y="236" width="3" height="13" fill="#ff0000"/><rect x="406" y="181" width="1" height="63" fill="#ff0000"/><rect x="405" y="194" width="3" height="44" fill="#ff0000"/><rect x="410" y="187" width="1" height="46" fill="#32cd32"/><rect x="409" y="194" width="3" height="21" fill="#32cd32"/><rect x="414" y="187" width="1" height="34" fill="#ff0000"/><rect x="413" y="190" width="3" height="25" fill="#ff0000"/><rect x="418" y="165" width="1" height="50" fill="#32cd32"/><rect x="417" y="190" width="3" height="14" fill="#32cd32"/><rect x="422" y="203" width="1" height="46" fill="#32cd32"/><rect x="421" y="204" width="3" height="44" fill="#32cd32"/><rect x="426" y="237" width="1" height="12" fill="#ff0000"/><rect x="425" y="241" width="3" height="4" fill="#ff0000"/><rect x="430" y="218" width="1" height="42" fill="#ff0000"/><rect x="429" y="233" width="3" height="10" fill="#ff0000"/><rect x="434" y="231" width="1" height="47" fill="#32cd32"/><rect x="433" y="233" width="3" height="40" fill="#32cd32"/><rect x="438" y="272" width="1" height="40" fill="#32cd32"/><rect x="437" y="273" width="3" height="36" fill="#32cd32"/><rect x="442" y="299" width="1" height="32" fill="#ff0000"/><rect x="441" y="305" width="3" height="3" fill="#ff0000"/><rect x="446" y="277" width="1" height="46" fill="#ff0000"/><rect x="445" y="281" width="3" height="25" fill="#ff0000"/><rect x="450" y="283" width="1" height="9" fill="#32cd32"/><rect x="449" y="289" width="3" height="2" fill="#32cd32"/><rect x="454" y="285" width="1" height="25" fill="#32cd32"/><rect x="453" y="290" width="3" height="13" fill="#32cd32"/><rect x="458" y="280" width="1" height="35" fill="#32cd32"/><rect x="457" y="302" width="3" height="9" fill="#32cd32"/><rect x="462" y="298" width="1" height="35" fill="#ff0000"/><rect x="461" y="304" width="3" height="6" fill="#ff0000"/><rect x="466" y="302" width="1" height="30" fill="#32cd32"/><rect x="465" y="305" width="3" height="5" fill="#32cd32"/><rect x="470" y="275" width="1" height="36" fill="#ff0000"/><rect x="469" y="276" width="3" height="34" fill="#ff0000"/><rect x="474" y="272" width="1" height="11" fill="#32cd32"/><rect x="473" y="274" width="3" height="8" fill="#32cd32"/><rect x="478" y="216" width="1" height="69" fill="#ff0000"/><rect x="477" y="251" width="3" height="31" fill="#ff0000"/><rect x="482" y="232" width="1" height="32" fill="#32cd32"/><rect x="481" y="251" width="3" height="5" fill="#32cd32"/><rect x="486" y="223" width="1" height="62" fill="#ff0000"/><rect x="485" y="237" width="3" height="19" fill="#ff0000"/><rect x="490" y="195" width="1" height="46" fill="#ff0000"/><rect x="489" y="196" width="3" height="41" fill="#ff0000"/><rect x="494" y="173" width="1" height="39" fill="#ff0000"/><rect x="493" y="178" width="3" height="19" fill="#ff0000"/><rect x="498" y="182" width="1" height="9" fill="#32cd32"/><rect x="497" y="187" width="3" height="3" fill="#32cd32"/><rect x="502" y="183" width="1" height="44" fill="#32cd32"/><rect x="501" y="190" width="3" height="19" fill="#32cd32"/><rect x="506" y="205" width="1" height="34" fill="#32cd32"/><rect x="505" y="209" width="3" height="13" fill="#32cd32"/><rect x="510" y="215" width="1" height="26" fill="#32cd32"/><rect x="509" y="222" width="3" height="1" fill="#32cd32"/><rect x="514" y="210" width="1" height="28" fill="#32cd32"/><rect x="513" y="223" width="3" height="4" fill="#32cd32"/><rect x="518" y="177" width="1" height="56" fill="#ff0000"/><rect x="517" y="193" width="3" height="34" fill="#ff0000"/><rect x="522" y="194" width="1" height="4" fill="#32cd32"/><rect x="521" y="195" width="3" height="2" fill="#32cd32"/><rect x="526" y="192" width="1" height="46" fill="#32cd32"/><rect x="525" y="196" width="3" height="38" fill="#32cd32"/><rect x="530" y="208" width="1" height="26" fill="#ff0000"/><rect x="529" y="214" width="3" height="20" fill="#ff0000"/><rect x="534" y="210" width="1" height="23" fill="#32cd32"/><rect x="533" y="215" width="3" height="13" fill="#32cd32"/><rect x="538" y="202" width="1" height="46" fill="#ff0000"/><rect x="537" y="202" width="3" height="26" fill="#ff0000"/><rect x="542" y="193" width="1" height="16" fill="#ff0000"/><rect x="541" y="198" width="3" height="5" fill="#ff0000"/><rect x="546" y="198" width="1" height="11" fill="#32cd32"/><rect x="545" y="202" width="3" height="4" fill="#32cd32"/><rect x="550" y="179" width="1" height="30" fill="#ff0000"/><rect x="549" y="204" width="3" height="3" fill="#ff0000"/><rect x="554" y="183" width="1" height="34" fill="#32cd32"/><rect x="553" y="204" width="3" height="3" fill="#32cd32"/><rect x="558" y="205" width="1" height="30" fill="#32cd32"/><rect x="557" y="206" width="3" height="14" fill="#32cd32"/><rect x="562" y="202" width="1" height="26" fill="#ff0000"/><rect x="561" y="213" width="3" height="7" fill="#ff0000"/><rect x="566" y="190" width="1" height="39" fill="#ff0000"/><rect x="565" y="197" width="3" height="16" fill="#ff0000"/><rect x="570" y="189" width="1" height="6" fill="#ff0000"/><rect x="569" y="191" width="3" height="3" fill="#ff0000"/><rect x="574" y="187" width="1" height="21" fill="#ff0000"/><rect x="573" y="191" width="3" height="1" fill="#ff0000"/><rect x="578" y="179" width="1" height="30" fill="#ff0000"/><rect x="577" y="186" width="3" height="6" fill="#ff0000"/><rect x="582" y="186" width="1" height="40" fill="#32cd32"/><rect x="581" y="187" width="3" height="15" fill="#32cd32"/><rect x="586" y="136" width="1" height="68" fill="#ff0000"/><rect x="585" y="168" width="3" height="34" fill="#ff0000"/><rect x="590" y="162" width="1" height="51" fill="#32cd32"/><rect x="589" y="168" width="3" height="44" fill="#32cd32"/><rect x="594" y="190" width="1" height="10" fill="#ff0000"/><rect x="593" y="192" width="3" height="3" fill="#ff0000"/><rect x="598" y="167" width="1" height="70" fill="#32cd32"/><rect x="597" y="192" width="3" height="40" fill="#32cd32"/><rect x="602" y="194" width="1" height="46" fill="#ff0000"/><rect x="601" y="205" width="3" height="29" fill="#ff0000"/><rect x="606" y="197" width="1" height="53" fill="#32cd32"/><rect x="605" y="205" width="3" height="38" fill="#32cd32"/><rect x="610" y="221" width="1" height="48" fill="#ff0000"/><rect x="609" y="231" width="3" height="12" fill="#ff0000"/><rect x="614" y="175" width="1" height="57" fill="#ff0000"/><rect x="613" y="198" width="3" height="34" fill="#ff0000"/><rect x="618" y="192" width="1" height="20" fill="#32cd32"/><rect x="617" y="202" width="3" height="9" fill="#32cd32"/><rect x="622" y="162" width="1" height="63" fill="#ff0000"/><rect x="621" y="172" width="3" height="39" fill="#ff0000"/><rect x="626" y="125" width="1" height="49" fill="#ff0000"/><rect x="625" y="129" width="3" height="43" fill="#ff0000"/><rect x="630" y="129" width="1" height="44" fill="#32cd32"/><rect x="629" y="130" width="3" height="42" fill="#32cd32"/><rect x="634" y="152" width="1" height="43" fill="#32cd32"/><rect x="633" y="172" width="3" height="21" fill="#32cd32"/><rect x="638" y="174" width="1" height="47" fill="#32cd32"/><rect x="637" y="193" width="3" height="14" fill="#32cd32"/><rect x="642" y="199" width="1" height="6" fill="#32cd32"/><rect x="641" y="200" width="3" height="2" fill="#32cd32"/><rect x="646" y="159" width="1" height="44" fill="#ff0000"/><rect x="645" y="162" width="3" height="40" fill="#ff0000"/><rect x="650" y="139" width="1" height="51" fill="#32cd32"/><rect x="649" y="161" width="3" height="25" fill="#32cd32"/><rect x="654" y="182" width="1" height="47" fill="#32cd32"/><rect x="653" y="185" width="3" height="38" fill="#32cd32"/><rect x="658" y="218" width="1" height="40" fill="#32cd32"/><rect x="657" y="223" width="3" height="26" fill="#32cd32"/><rect x="662" y="242" width="1" height="24" fill="#32cd32"/><rect x="661" y="249" width="3" height="15" fill="#32cd32"/><rect x="666" y="259" width="1" height="7" fill="#ff0000"/><rect x="665" y="260" width="3" height="2" fill="#ff0000"/><rect x="670" y="253" width="1" height="27" fill="#32cd32"/><rect x="669" y="260" width="3" height="9" fill="#32cd32"/><rect x="674" y="252" width="1" height="28" fill="#32cd32"/><rect x="673" y="268" width="3" height="4" fill="#32cd32"/><rect x="678" y="261" width="1" height="30" fill="#32cd32"/><rect x="677" y="271" width="3" height="12" fill="#32cd32"/><rect x="682" y="269" width="1" height="36" fill="#32cd32"/><rect x="681" y="282" width="3" height="17" fill="#32cd32"/><rect x="686" y="285" width="1" height="39" fill="#32cd32"/><rect x="685" y="299" width="3" height="24" fill="#32cd32"/><rect x="690" y="314" width="1" height="6" fill="#ff0000"/><rect x="689" y="315" width="3" height="2" fill="#ff0000"/><rect x="694" y="267" width="1" height="55" fill="#ff0000"/><rect x="693" y="299" width="3" height="17" fill="#ff0000"/><rect x="698" y="295" width="1" height="29" fill="#32cd32"/><rect x="697" y="299" width="3" height="11" fill="#32cd32"/><rect x="702" y="305" width="1" height="37" fill="#32cd32"/><rect x="701" y="309" width="3" height="9" fill="#32cd32"/><rect x="706" y="294" width="1" height="32" fill="#ff0000"/><rect x="705" y="308" width="3" height="9" fill="#ff0000"/><rect x="710" y="292" width="1" height="27" fill="#ff0000"/><rect x="709" y="305" width="3" height="4" fill="#ff0000"/><rect x="714" y="296" width="1" height="5" fill="#ff0000"/><rect x="713" y="297" width="3" height="3" fill="#ff0000"/><rect x="718" y="296" width="1" height="29" fill="#32cd32"/><rect x="717" y="297" width="3" height="19" fill="#32cd32"/><rect x="722" y="310" width="1" height="44" fill="#32cd32"/><rect x="721" y="315" width="3" height="2" fill="#32cd32"/><rect x="726" y="278" width="1" height="42" fill="#ff0000"/><rect x="725" y="280" width="3" height="37" fill="#ff0000"/><rect x="730" y="258" width="1" height="35" fill="#ff0000"/><rect x="729" y="269" width="3" height="12" fill="#ff0000"/><rect x="734" y="254" width="1" height="26" fill="#32cd32"/><rect x="733" y="269" width="3" height="10" fill="#32cd32"/><rect x="738" y="271" width="1" height="8" fill="#ff0000"/><rect x="737" y="272" width="3" height="6" fill="#ff0000"/><rect x="742" y="243" width="1" height="33" fill="#ff0000"/><rect x="741" y="245" width="3" height="28" fill="#ff0000"/><rect x="746" y="235" width="1" height="38" fill="#32cd32"/><rect x="745" y="245" width="3" height="3" fill="#32cd32"/><rect x="750" y="230" width="1" height="55" fill="#32cd32"/><rect x="749" y="247" width="3" height="32" fill="#32cd32"/><rect x="754" y="244" width="1" height="56" fill="#ff0000"/><rect x="753" y="260" width="3" height="19" fill="#ff0000"/><rect x="758" y="254" width="1" height="15" fill="#32cd32"/><rect x="757" y="260" width="3" height="1" fill="#32cd32"/><rect x="762" y="255" width="1" height="6" fill="#ff0000"/><rect x="761" y="256" width="3" height="4" fill="#ff0000"/><rect x="766" y="243" width="1" height="21" fill="#32cd32"/><rect x="765" y="257" width="3" height="7" fill="#32cd32"/><rect x="770" y="242" width="1" height="37" fill="#ff0000"/><rect x="769" y="261" width="3" height="1" fill="#ff0000"/><rect x="774" y="252" width="1" height="71" fill="#32cd32"/><rect x="773" y="261" width="3" height="55" fill="#32cd32"/><rect x="778" y="267" width="1" height="62" fill="#ff0000"/><rect x="777" y="267" width="3" height="49" fill="#ff0000"/><rect x="782" y="206" width="1" height="65" fill="#ff0000"/><rect x="781" y="208" width="3" height="59" fill="#ff0000"/><rect x="786" y="206" width="1" height="5" fill="#ff0000"/><rect x="785" y="207" width="3" height="3" fill="#ff0000"/><rect x="790" y="182" width="1" height="29" fill="#ff0000"/><rect x="789" y="200" width="3" height="8" fill="#ff0000"/><rect x="794" y="159" width="1" height="66" fill="#ff0000"/><rect x="793" y="168" width="3" height="32" fill="#ff0000"/><rect x="798" y="147" width="1" height="36" fill="#ff0000"/><rect x="797" y="165" width="3" height="4" fill="#ff0000"/><rect x="802" y="135" width="1" height="42" fill="#32cd32"/><rect x="801" y="164" width="3" height="7" fill="#32cd32"/><rect x="806" y="155" width="1" height="55" fill="#ff0000"/><rect x="805" y="156" width="3" height="15" fill="#ff0000"/><rect x="810" y="145" width="1" height="8" fill="#ff0000"/><rect x="809" y="146" width="3" height="5" fill="#ff0000"/><rect x="814" y="119" width="1" height="32" fill="#ff0000"/><rect x="813" y="139" width="3" height="9" fill="#ff0000"/><rect x="818" y="128" width="1" height="33" fill="#32cd32"/><rect x="817" y="139" width="3" height="18" fill="#32cd32"/><rect x="822" y="147" width="1" height="60" fill="#32cd32"/><rect x="821" y="156" width="3" height="44" fill="#32cd32"/><rect x="826" y="140" width="1" height="72" fill="#ff0000"/><rect x="825" y="159" width="3" height="41" fill="#ff0000"/><rect x="830" y="121" width="1" height="45" fill="#ff0000"/><rect x="829" y="123" width="3" height="37" fill="#ff0000"/><rect x="834" y="116" width="1" height="5" fill="#ff0000"/><rect x="833" y="117" width="3" height="2" fill="#ff0000"/><rect x="838" y="71" width="1" height="52" fill="#ff0000"/><rect x="837" y="75" width="3" height="42" fill="#ff0000"/><rect x="842" y="56" width="1" height="42" fill="#ff0000"/><rect x="841" y="64" width="3" height="11" fill="#ff0000"/><rect x="846" y="62" width="1" height="55" fill="#32cd32"/><rect x="845" y="64" width="3" height="19" fill="#32cd32"/><rect x="850" y="45" width="1" height="46" fill="#ff0000"/><rect x="849" y="68" width="3" height="15" fill="#ff0000"/><rect x="854" y="65" width="1" height="55" fill="#32cd32"/><rect x="853" y="68" width="3" height="45" fill="#32cd32"/><rect x="858" y="117" width="1" height="9" fill="#32cd32"/><rect x="857" y="119" width="3" height="5" fill="#32cd32"/><rect x="862" y="88" width="1" height="68" fill="#32cd32"/><rect x="861" y="124" width="3" height="26" fill="#32cd32"/><rect x="866" y="145" width="1" height="26" fill="#32cd32"/><rect x="865" y="149" width="3" height="21" fill="#32cd32"/><rect x="870" y="130" width="1" height="45" fill="#ff0000"/><rect x="869" y="131" width="3" height="38" fill="#ff0000"/><rect x="874" y="132" width="1" height="48" fill="#32cd32"/><rect x="873" y="133" width="3" height="31" fill="#32cd32"/><rect x="878" y="140" width="1" height="43" fill="#ff0000"/><rect x="877" y="148" width="3" height="16" fill="#ff0000"/><rect x="882" y="159" width="1" height="8" fill="#32cd32"/><rect x="881" y="160" width="3" height="5" fill="#32cd32"/><rect x="886" y="163" width="1" height="25" fill="#32cd32"/><rect x="885" y="164" width="3" height="14" fill="#32cd32"/><rect x="890" y="138" width="1" height="44" fill="#ff0000"/><rect x="889" y="161" width="3" height="17" fill="#ff0000"/><rect x="894" y="133" width="1" height="38" fill="#32cd32"/><rect x="893" y="160" width="3" height="2" fill="#32cd32"/><rect x="898" y="149" width="1" height="37" fill="#32cd32"/><rect x="897" y="163" width="3" height="21" fill="#32cd32"/><rect x="902" y="180" width="1" height="28" fill="#32cd32"/><rect x="901" y="184" width="3" height="23" fill="#32cd32"/><rect x="906" y="205" width="1" height="5" fill="#ff0000"/><rect x="905" y="206" width="3" height="1" fill="#ff0000"/><rect x="910" y="205" width="1" height="36" fill="#32cd32"/><rect x="909" y="205" width="3" height="33" fill="#32cd32"/><rect x="914" y="224" width="1" height="27" fill="#32cd32"/><rect x="913" y="237" width="3" height="10" fill="#32cd32"/><rect x="918" y="228" width="1" height="33" fill="#ff0000"/><rect x="917" y="232" width="3" height="15" fill="#ff0000"/><rect x="922" y="224" width="1" height="57" fill="#32cd32"/><rect x="921" y="233" width="3" height="44" fill="#32cd32"/><rect x="926" y="273" width="1" height="11" fill="#32cd32"/><rect x="925" y="276" width="3" height="1" fill="#32cd32"/></g><g><rect x="6" y="453" width="2" height="4" fill="#c0c0c0"/><rect x="9" y="452" width="3" height="5" fill="#c0c0c0"/><rect x="13" y="451" width="3" height="6" fill="#c0c0c0"/><rect x="17" y="451" width="3" height="6" fill="#c0c0c0"/><rect x="21" y="451" width="3" height="6" fill="#c0c0c0"/><rect x="25" y="450" width="3" height="7" fill="#c0c0c0"/><rect x="29" y="451" width="3" height="6" fill="#c0c0c0"/><rect x="33" y="451" width="3" height="6" fill="#c0c0c0"/><rect x="37" y="449" width="3" height="8" fill="#c0c0c0"/><rect x="41" y="446" width="3" height="11" fill="#c0c0c0"/><rect x="45" y="444" width="3" height="13" fill="#c0c0c0"/><rect x="49" y="442" width="3" height="15" fill="#c0c0c0"/><rect x="53" y="440" width="3" height="17" fill="#c0c0c0"/><rect x="57" y="443" width="3" height="14" fill="#c0c0c0"/><rect x="61" y="446" width="3" height="11" fill="#c0c0c0"/><rect x="65" y="448" width="3" height="9" fill="#c0c0c0"/><rect x="69" y="451" width="3" height="6" fill="#c0c0c0"/><rect x="73" y="451" width="3" height="6" fill="#c0c0c0"/><rect x="77" y="450" width="3" height="7" fill="#c0c0c0"/><rect x="81" y="451" width="3" height="6" fill="#c0c0c0"/><rect x="85" y="453" width="3" height="4" fill="#c0c0c0"/><rect x="89" y="455" width="3" height="2" fill="#c0c0c0"/><rect x="93" y="457" width="3" height="1" fill="#c0c0c0"/><rect x="97" y="457" width="3" height="3" fill="#c0c0c0"/><rect x="101" y="457" width="3" height="5" fill="#c0c0c0"/><rect x="105" y="457" width="3" height="7" fill="#c0c0c0"/><rect x="109" y="457" width="3" height="11" fill="#c0c0c0"/><rect x="113" y="457" width="3" height="14" fill="#c0c0c0"/><rect x="117" y="457" width="3" height="17" fill="#c0c0c0"/><rect x="121" y="457" width="3" height="19" fill="#c0c0c0"/><rect x="125" y="457" width="3" height="21" fill="#c0c0c0"/><rect x="129" y="457" width="3" height="23" fill="#c0c0c0"/><rect x="133" y="457" width="3" height="25" fill="#c0c0c0"/><rect x="137" y="457" width="3" height="26" fill="#c0c0c0"/><rect x="141" y="457" width="3" height="28" fill="#c0c0c0"/><rect x="145" y="457" width="3" height="29" fill="#c0c0c0"/><rect x="149" y="457" width="3" height="29" fill="#c0c0c0"/><rect x="153" y="457" width="3" height="29" fill="#c0c0c0"/><rect x="157" y="457" width="3" height="28" fill="#c0c0c0"/><rect x="161" y="457" width="3" height="27" fill="#c0c0c0"/><rect x="165" y="457" width="3" height="26" fill="#c0c0c0"/><rect x="169" y="457" width="3" height="26" fill="#c0c0c0"/><rect x="173" y="457" width="3" height="25" fill="#c0c0c0"/><rect x="177" y="457" width="3" height="24" fill="#c0c0c0"/><rect x="181" y="457" width="3" height="22" fill="#c0c0c0"/><rect x="185" y="457" width="3" height="21" fill="#c0c0c0"/><rect x="189" y="457" width="3" height="19" fill="#c0c0c0"/><rect x="193" y="457" width="3" height="17" fill="#c0c0c0"/><rect x="197" y="457" width="3" height="16" fill="#c0c0c0"/><rect x="201" y="457" width="3" height="14" fill="#c0c0c0"/><rect x="205" y="457" width="3" height="12" fill="#c0c0c0"/><rect x="209" y="457" width="3" height="10" fill="#c0c0c0"/><rect x="213" y="457" width="3" height="8" fill="#c0c0c0"/><rect x="217" y="457" width="3" height="7" fill="#c0c0c0"/><rect x="221" y="457" width="3" height="3" fill="#c0c0c0"/><rect x="225" y="456" width="3" height="1" fill="#c0c0c0"/><rect x="229" y="453" width="3" height="4" fill="#c0c0c0"/><rect x="233" y="451" width="3" height="6" fill="#c0c0c0"/><rect x="237" y="450" width="3" height="7" fill="#c0c0c0"/><rect x="241" y="448" width="3" height="9" fill="#c0c0c0"/><rect x="245" y="445" width="3" height="12" fill="#c0c0c0"/><rect x="249" y="443" width="3" height="14" fill="#c0c0c0"/><rect x="253" y="442" width="3" height="15" fill="#c0c0c0"/><rect x="257" y="439" width="3" height="18" fill="#c0c0c0"/><rect x="261" y="437" width="3" height="20" fill="#c0c0c0"/><rect x="265" y="436" width="3" height="21" fill="#c0c0c0"/><rect x="269" y="436" width="3" height="21" fill="#c0c0c0"/><rect x="273" y="435" width="3" height="22" fill="#c0c0c0"/><rect x="277" y="433" width="3" height="24" fill="#c0c0c0"/><rect x="281" y="432" width="3" height="25" fill="#c0c0c0"/><rect x="285" y="431" width="3" height="26" fill="#c0c0c0"/><rect x="289" y="430" width="3" height="27" fill="#c0c0c0"/><rect x="293" y="429" width="3" height="28" fill="#c0c0c0"/><rect x="297" y="428" width="3" height="29" fill="#c0c0c0"/><rect x="301" y="427" width="3" height="30" fill="#c0c0c0"/><rect x="305" y="427" width="3" height="30" fill="#c0c0c0"/><rect x="309" y="430" width="3" height="27" fill="#c0c0c0"/><rect x="313" y="434" width="3" height="23" fill="#c0c0c0"/><rect x="317" y="438" width="3" height="19" fill="#c0c0c0"/><rect x="321" y="440" width="3" height="17" fill="#c0c0c0"/><rect x="325" y="441" width="3" height="16" fill="#c0c0c0"/><rect x="329" y="442" width="3" height="15" fill="#c0c0c0"/><rect x="333" y="441" width="3" height="16" fill="#c0c0c0"/><rect x="337" y="439" width="3" height="18" fill="#c0c0c0"/><rect x="341" y="439" width="3" height="18" fill="#c0c0c0"/><rect x="345" y="438" width="3" height="19" fill="#c0c0c0"/><rect x="349" y="437" width="3" height="20" fill="#c0c0c0"/><rect x="353" y="435" width="3" height="22" fill="#c0c0c0"/><rect x="357" y="433" width="3" height="24" fill="#c0c0c0"/><rect x="361" y="432" width="3" height="25" fill="#c0c0c0"/><rect x="365" y="434" width="3" height="23" fill="#c0c0c0"/><rect x="369" y="436" width="3" height="21" fill="#c0c0c0"/><rect x="373" y="438" width="3" height="19" fill="#c0c0c0"/><rect x="377" y="440" width="3" height="17" fill="#c0c0c0"/><rect x="381" y="443" width="3" height="14" fill="#c0c0c0"/><rect x="385" y="444" width="3" height="13" fill="#c0c0c0"/><rect x="389" y="446" width="3" height="11" fill="#c0c0c0"/><rect x="393" y="450" width="3" height="7" fill="#c0c0c0"/><rect x="397" y="455" width="3" height="2" fill="#c0c0c0"/><rect x="401" y="457" width="3" height="2" fill="#c0c0c0"/><rect x="405" y="457" width="3" height="2" fill="#c0c0c0"/><rect x="409" y="457" width="3" height="3" fill="#c0c0c0"/><rect x="413" y="457" width="3" height="3" fill="#c0c0c0"/><rect x="417" y="457" width="3" height="4" fill="#c0c0c0"/><rect x="421" y="457" width="3" height="7" fill="#c0c0c0"/><rect x="425" y="457" width="3" height="9" fill="#c0c0c0"/><rect x="429" y="457" width="3" height="10" fill="#c0c0c0"/><rect x="433" y="457" width="3" height="13" fill="#c0c0c0"/><rect x="437" y="457" width="3" height="18" fill="#c0c0c0"/><rect x="441" y="457" width="3" height="21" fill="#c0c0c0"/><rect x="445" y="457" width="3" height="22" fill="#c0c0c0"/><rect x="449" y="457" width="3" height="23" fill="#c0c0c0"/><rect x="453" y="457" width="3" height="24" fill="#c0c0c0"/><rect x="457" y="457" width="3" height="25" fill="#c0c0c0"/><rect x="461" y="457" width="3" height="25" fill="#c0c0c0"/><rect x="465" y="457" width="3" height="25" fill="#c0c0c0"/><rect x="469" y="457" width="3" height="23" fill="#c0c0c0"/><rect x="473" y="457" width="3" height="21" fill="#c0c0c0"/><rect x="477" y="457" width="3" height="18" fill="#c0c0c0"/><rect x="481" y="457" width="3" height="15" fill="#c0c0c0"/><rect x="485" y="457" width="3" height="12" fill="#c0c0c0"/><rect x="489" y="457" width="3" height="6" fill="#c0c0c0"/><rect x="493" y="457" width="3" height="1" fill="#c0c0c0"/><rect x="497" y="456" width="3" height="1" fill="#c0c0c0"/><rect x="501" y="453" width="3" height="4" fill="#c0c0c0"/><rect x="505" y="453" width="3" height="4" fill="#c0c0c0"/><rect x="509" y="453" width="3" height="4" fill="#c0c0c0"/><rect x="513" y="452" width="3" height="5" fill="#c0c0c0"/><rect x="517" y="451" width="3" height="6" fill="#c0c0c0"/><rect x="521" y="450" width="3" height="7" fill="#c0c0c0"/><rect x="525" y="451" width="3" height="6" fill="#c0c0c0"/><rect x="529" y="451" width="3" height="6" fill="#c0c0c0"/><rect x="533" y="452" width="3" height="5" fill="#c0c0c0"/><rect x="537" y="451" width="3" height="6" fill="#c0c0c0"/><rect x="541" y="451" width="3" height="6" fill="#c0c0c0"/><rect x="545" y="451" width="3" height="6" fill="#c0c0c0"/><rect x="549" y="450" width="3" height="7" fill="#c0c0c0"/><rect x="553" y="451" width="3" height="6" fill="#c0c0c0"/><rect x="557" y="451" width="3" height="6" fill="#c0c0c0"/><rect x="561" y="451" width="3" height="6" fill="#c0c0c0"/><rect x="565" y="451" width="3" height="6" fill="#c0c0c0"/><rect x="569" y="451" width="3" height="6" fill="#c0c0c0"/><rect x="573" y="450" width="3" height="7" fill="#c0c0c0"/><rect x="577" y="450" width="3" height="7" fill="#c0c0c0"/><rect x="581" y="450" width="3" height="7" fill="#c0c0c0"/><rect x="585" y="449" width="3" height="8" fill="#c0c0c0"/><rect x="589" y="450" width="3" height="7" fill="#c0c0c0"/><rect x="593" y="451" width="3" height="6" fill="#c0c0c0"/><rect x="597" y="452" width="3" height="5" fill="#c0c0c0"/><rect x="601" y="454" width="3" height="3" fill="#c0c0c0"/><rect x="605" y="456" width="3" height="1" fill="#c0c0c0"/><rect x="609" y="457" width="3" height="1" fill="#c0c0c0"/><rect x="613" y="457" width="3" height="1" fill="#c0c0c0"/><rect x="617" y="456" width="3" height="1" fill="#c0c0c0"/><rect x="621" y="454" width="3" height="3" fill="#c0c0c0"/><rect x="625" y="450" width="3" height="7" fill="#c0c0c0"/><rect x="629" y="449" width="3" height="8" fill="#c0c0c0"/><rect x="633" y="450" width="3" height="7" fill="#c0c0c0"/><rect x="637" y="451" width="3" height="6" fill="#c0c0c0"/><rect x="641" y="452" width="3" height="5" fill="#c0c0c0"/><rect x="645" y="451" width="3" height="6" fill="#c0c0c0"/><rect x="649" y="451" width="3" height="6" fill="#c0c0c0"/><rect x="653" y="454" width="3" height="3" fill="#c0c0c0"/><rect x="657" y="457" width="3" height="1" fill="#c0c0c0"/><rect x="661" y="457" width="3" height="5" fill="#c0c0c0"/><rect x="665" y="457" width="3" height="8" fill="#c0c0c0"/><rect x="669" y="457" width="3" height="10" fill="#c0c0c0"/><rect x="673" y="457" width="3" height="13" fill="#c0c0c0"/><rect x="677" y="457" width="3" height="15" fill="#c0c0c0"/><rect x="681" y="457" width="3" height="18" fill="#c0c0c0"/><rect x="685" y="457" width="3" height="21" fill="#c0c0c0"/><rect x="689" y="457" width="3" height="22" fill="#c0c0c0"/><rect x="693" y="457" width="3" height="23" fill="#c0c0c0"/><rect x="697" y="457" width="3" height="24" fill="#c0c0c0"/><rect x="701" y="457" width="3" height="24" fill="#c0c0c0"/><rect x="705" y="457" width="3" height="23" fill="#c0c0c0"/><rect x="709" y="457" width="3" height="21" fill="#c0c0c0"/><rect x="713" y="457" width="3" height="22" fill="#c0c0c0"/><rect x="717" y="457" width="3" height="22" fill="#c0c0c0"/><rect x="721" y="457" width="3" height="21" fill="#c0c0c0"/><rect x="725" y="457" width="3" height="19" fill="#c0c0c0"/><rect x="729" y="457" width="3" height="16" fill="#c0c0c0"/><rect x="733" y="457" width="3" height="14" fill="#c0c0c0"/><rect x="737" y="457" width="3" height="12" fill="#c0c0c0"/><rect x="741" y="457" width="3" height="9" fill="#c0c0c0"/><rect x="745" y="457" width="3" height="6" fill="#c0c0c0"/><rect x="749" y="457" width="3" height="5" fill="#c0c0c0"/><rect x="753" y="457" width="3" height="4" fill="#c0c0c0"/><rect x="757" y="457" width="3" height="3" fill="#c0c0c0"/><rect x="761" y="457" width="3" height="2" fill="#c0c0c0"/><rect x="765" y="457" width="3" height="2" fill="#c0c0c0"/><rect x="769" y="457" width="3" height="1" fill="#c0c0c0"/><rect x="773" y="457" width="3" height="1" fill="#c0c0c0"/><rect x="777" y="457" width="3" height="2" fill="#c0c0c0"/><rect x="781" y="455" width="3" height="2" fill="#c0c0c0"/><rect x="785" y="452" width="3" height="5" fill="#c0c0c0"/><rect x="789" y="448" width="3" height="9" fill="#c0c0c0"/><rect x="793" y="445" width="3" height="12" fill="#c0c0c0"/><rect x="797" y="442" width="3" height="15" fill="#c0c0c0"/><rect x="801" y="439" width="3" height="18" fill="#c0c0c0"/><rect x="805" y="437" width="3" height="20" fill="#c0c0c0"/><rect x="809" y="436" width="3" height="21" fill="#c0c0c0"/><rect x="813" y="433" width="3" height="24" fill="#c0c0c0"/><rect x="817" y="433" width="3" height="24" fill="#c0c0c0"/><rect x="821" y="435" width="3" height="22" fill="#c0c0c0"/><rect x="825" y="435" width="3" height="22" fill="#c0c0c0"/><rect x="829" y="434" width="3" height="23" fill="#c0c0c0"/><rect x="833" y="432" width="3" height="25" fill="#c0c0c0"/><rect x="837" y="429" width="3" height="28" fill="#c0c0c0"/><rect x="841" y="426" width="3" height="31" fill="#c0c0c0"/><rect x="845" y="424" width="3" height="33" fill="#c0c0c0"/><rect x="849" y="423" width="3" height="34" fill="#c0c0c0"/><rect x="853" y="425" width="3" height="32" fill="#c0c0c0"/><rect x="857" y="428" width="3" height="29" fill="#c0c0c0"/><rect x="861" y="431" width="3" height="26" fill="#c0c0c0"/><rect x="865" y="435" width="3" height="22" fill="#c0c0c0"/><rect x="869" y="438" width="3" height="19" fill="#c0c0c0"/><rect x="873" y="440" width="3" height="17" fill="#c0c0c0"/><rect x="877" y="443" width="3" height="14" fill="#c0c0c0"/><rect x="881" y="445" width="3" height="12" fill="#c0c0c0"/><rect x="885" y="448" width="3" height="9" fill="#c0c0c0"/><rect x="889" y="450" width="3" height="7" fill="#c0c0c0"/><rect x="893" y="452" width="3" height="5" fill="#c0c0c0"/><rect x="897" y="453" width="3" height="4" fill="#c0c0c0"/><rect x="901" y="456" width="3" height="1" fill="#c0c0c0"/><rect x="905" y="457" width="3" height="2" fill="#c0c0c0"/><rect x="909" y="457" width="3" height="5" fill="#c0c0c0"/><rect x="913" y="457" width="3" height="9" fill="#c0c0c0"/><rect x="917" y="457" width="3" height="12" fill="#c0c0c0"/><rect x="921" y="457" width="3" height="15" fill="#c0c0c0"/><rect x="925" y="457" width="3" height="20" fill="#c0c0c0"/></g><path d="M114 461h1v1h-1zM236 461h2v1h-2zM431 461h2v1h-2zM513 461h1v1h-1zM680 461h1v1h-1zM772 461h6v1h-6zM922 461h1v1h-1zM42 451h2v1h-2zM91 451h3v1h-3zM255 451h1v1h-1zM412 451h2v1h-2zM545 451h36v1h-36zM602 451h4v1h-4zM803 451h2v1h-2zM909 451h1v1h-1zM141 477h2v1h-2zM200 477h3v1h-3zM463 477h3v1h-3zM486 477h3v1h-3zM708 477h3v1h-3zM733 477h4v1h-4zM106 457h2v1h-2zM243 457h2v1h-2zM423 457h2v1h-2zM519 457h1v1h-1zM673 457h1v1h-1zM790 457h3v1h-3zM917 457h1v1h-1zM33 453h5v1h-5zM97 453h2v1h-2zM251 453h1v1h-1zM416 453h1v1h-1zM527 453h6v1h-6zM612 453h5v1h-5zM640 453h11v1h-11zM659 453h6v1h-6zM799 453h2v1h-2zM912 453h1v1h-1zM110 459h2v1h-2zM239 459h2v1h-2zM427 459h2v1h-2zM516 459h1v1h-1zM677 459h1v1h-1zM782 459h4v1h-4zM920 459h1v1h-1zM115 462h2v1h-2zM234 462h2v1h-2zM433 462h2v1h-2zM512 462h1v1h-1zM681 462h2v1h-2zM768 462h4v1h-4zM923 462h2v1h-2zM301 433h3v1h-3zM326 433h3v1h-3zM841 433h2v1h-2zM879 433h2v1h-2zM7 455h20v1h-20zM102 455h2v1h-2zM247 455h2v1h-2zM419 455h2v1h-2zM522 455h2v1h-2zM669 455h1v1h-1zM795 455h2v1h-2zM915 455h1v1h-1zM143 478h2v1h-2zM198 478h2v1h-2zM466 478h2v1h-2zM482 478h4v1h-4zM711 478h8v1h-8zM727 478h6v1h-6zM290 436h3v1h-3zM336 436h3v1h-3zM365 436h22v1h-22zM831 436h4v1h-4zM884 436h2v1h-2zM108 458h2v1h-2zM241 458h2v1h-2zM425 458h2v1h-2zM517 458h2v1h-2zM674 458h3v1h-3zM786 458h4v1h-4zM918 458h2v1h-2zM56 446h6v1h-6zM71 446h8v1h-8zM265 446h2v1h-2zM404 446h2v1h-2zM812 446h2v1h-2zM901 446h1v1h-1zM130 471h2v1h-2zM216 471h3v1h-3zM450 471h2v1h-2zM499 471h2v1h-2zM694 471h2v1h-2zM747 471h2v1h-2zM27 454h6v1h-6zM99 454h3v1h-3zM249 454h2v1h-2zM417 454h2v1h-2zM524 454h3v1h-3zM617 454h23v1h-23zM665 454h4v1h-4zM797 454h2v1h-2zM913 454h2v1h-2zM156 483h6v1h-6zM178 483h5v1h-5zM123 467h2v1h-2zM225 467h2v1h-2zM443 467h1v1h-1zM505 467h1v1h-1zM687 467h2v1h-2zM755 467h2v1h-2zM50 448h2v1h-2zM82 448h4v1h-4zM261 448h2v1h-2zM407 448h2v1h-2zM808 448h2v1h-2zM904 448h1v1h-1zM122 466h1v1h-1zM227 466h2v1h-2zM441 466h2v1h-2zM506 466h2v1h-2zM686 466h1v1h-1zM757 466h2v1h-2zM117 463h2v1h-2zM233 463h1v1h-1zM435 463h2v1h-2zM510 463h2v1h-2zM683 463h1v1h-1zM765 463h3v1h-3zM925 463h1v1h-1zM104 456h2v1h-2zM245 456h2v1h-2zM421 456h2v1h-2zM520 456h2v1h-2zM670 456h3v1h-3zM793 456h2v1h-2zM916 456h1v1h-1zM127 469h1v1h-1zM221 469h2v1h-2zM446 469h2v1h-2zM502 469h2v1h-2zM690 469h2v1h-2zM751 469h2v1h-2zM38 452h4v1h-4zM94 452h3v1h-3zM252 452h3v1h-3zM414 452h2v1h-2zM533 452h12v1h-12zM606 452h6v1h-6zM651 452h8v1h-8zM801 452h2v1h-2zM910 452h2v1h-2zM282 439h3v1h-3zM347 439h11v1h-11zM392 439h2v1h-2zM823 439h2v1h-2zM889 439h1v1h-1zM47 449h3v1h-3zM86 449h3v1h-3zM259 449h2v1h-2zM409 449h2v1h-2zM807 449h1v1h-1zM905 449h2v1h-2zM62 445h9v1h-9zM267 445h2v1h-2zM402 445h2v1h-2zM814 445h1v1h-1zM899 445h2v1h-2zM139 476h2v1h-2zM203 476h2v1h-2zM461 476h2v1h-2zM489 476h2v1h-2zM706 476h2v1h-2zM737 476h2v1h-2zM119 464h1v1h-1zM231 464h2v1h-2zM437 464h2v1h-2zM509 464h1v1h-1zM684 464h1v1h-1zM762 464h3v1h-3zM926 464h1v1h-1zM287 437h3v1h-3zM339 437h4v1h-4zM362 437h3v1h-3zM387 437h2v1h-2zM827 437h4v1h-4zM886 437h1v1h-1zM44 450h3v1h-3zM89 450h2v1h-2zM256 450h3v1h-3zM411 450h1v1h-1zM581 450h21v1h-21zM805 450h2v1h-2zM907 450h2v1h-2zM132 472h1v1h-1zM213 472h3v1h-3zM452 472h2v1h-2zM497 472h2v1h-2zM696 472h2v1h-2zM745 472h2v1h-2zM145 479h2v1h-2zM195 479h3v1h-3zM468 479h14v1h-14zM719 479h8v1h-8zM112 460h2v1h-2zM238 460h1v1h-1zM429 460h2v1h-2zM514 460h2v1h-2zM678 460h2v1h-2zM778 460h4v1h-4zM921 460h1v1h-1zM856 429h16v1h-16zM297 434h4v1h-4zM329 434h4v1h-4zM838 434h3v1h-3zM881 434h1v1h-1zM285 438h2v1h-2zM343 438h4v1h-4zM358 438h4v1h-4zM389 438h3v1h-3zM825 438h2v1h-2zM887 438h2v1h-2zM120 465h2v1h-2zM229 465h2v1h-2zM439 465h2v1h-2zM508 465h1v1h-1zM685 465h1v1h-1zM759 465h3v1h-3zM128 470h2v1h-2zM219 470h2v1h-2zM448 470h2v1h-2zM501 470h1v1h-1zM692 470h2v1h-2zM749 470h2v1h-2zM137 475h2v1h-2zM205 475h3v1h-3zM458 475h3v1h-3zM491 475h2v1h-2zM703 475h3v1h-3zM739 475h2v1h-2zM135 474h2v1h-2zM208 474h3v1h-3zM456 474h2v1h-2zM493 474h2v1h-2zM700 474h3v1h-3zM741 474h2v1h-2zM274 442h3v1h-3zM398 442h1v1h-1zM818 442h2v1h-2zM894 442h2v1h-2zM307 431h3v1h-3zM315 431h6v1h-6zM846 431h4v1h-4zM875 431h2v1h-2zM52 447h4v1h-4zM79 447h3v1h-3zM263 447h2v1h-2zM406 447h1v1h-1zM810 447h2v1h-2zM902 447h2v1h-2zM304 432h3v1h-3zM321 432h5v1h-5zM843 432h3v1h-3zM877 432h2v1h-2zM147 480h3v1h-3zM191 480h4v1h-4zM269 444h3v1h-3zM401 444h1v1h-1zM815 444h2v1h-2zM897 444h2v1h-2zM279 440h3v1h-3zM394 440h2v1h-2zM822 440h1v1h-1zM890 440h2v1h-2zM125 468h2v1h-2zM223 468h2v1h-2zM444 468h2v1h-2zM504 468h1v1h-1zM689 468h1v1h-1zM753 468h2v1h-2zM162 484h16v1h-16zM310 430h5v1h-5zM850 430h6v1h-6zM872 430h3v1h-3zM150 481h2v1h-2zM187 481h4v1h-4zM152 482h4v1h-4zM183 482h4v1h-4zM293 435h4v1h-4zM333 435h3v1h-3zM835 435h3v1h-3zM882 435h2v1h-2zM133 473h2v1h-2zM211 473h2v1h-2zM454 473h2v1h-2zM495 473h2v1h-2zM698 473h2v1h-2zM743 473h2v1h-2zM277 441h2v1h-2zM396 441h2v1h-2zM820 441h2v1h-2zM892 441h2v1h-2zM272 443h2v1h-2zM399 443h2v1h-2zM817 443h1v1h-1zM896 443h1v1h-1z" fill="#ff0000"/><line x1="7" x2="1168" y1="515.5" y2="515.5" stroke="#c0c0c0" stroke-width="1" stroke-dasharray="3,3"/><line x1="7" x2="1168" y1="544.5" y2="544.5" stroke="#c0c0c0" stroke-width="1" stroke-dasharray="3,3"/><path d="M11 525h1v1h-1zM16 525h3v1h-3zM25 525h1v1h-1zM27 525h1v1h-1zM36 525h1v1h-1zM56 525h1v1h-1zM77 525h1v1h-1zM79 525h1v1h-1zM221 525h1v1h-1zM238 525h1v1h-1zM312 525h1v1h-1zM325 525h3v1h-3zM331 525h1v1h-1zM347 525h1v1h-1zM368 525h2v1h-2zM489 525h1v1h-1zM504 525h1v1h-1zM516 525h1v1h-1zM523 525h1v1h-1zM541 525h2v1h-2zM566 525h2v1h-2zM579 525h1v1h-1zM583 525h1v1h-1zM588 525h1v1h-1zM622 525h1v1h-1zM630 525h1v1h-1zM646 525h1v1h-1zM781 525h1v1h-1zM821 525h1v1h-1zM824 525h1v1h-1zM857 525h2v1h-2zM29 528h1v1h-1zM32 528h2v1h-2zM57 528h1v1h-1zM75 528h1v1h-1zM81 528h1v1h-1zM204 528h8v1h-8zM219 528h1v1h-1zM314 528h1v1h-1zM321 528h2v1h-2zM380 528h3v1h-3zM385 528h2v1h-2zM485 528h1v1h-1zM509 528h6v1h-6zM525 528h1v1h-1zM529 528h4v1h-4zM535 528h2v1h-2zM555 528h3v1h-3zM560 528h2v1h-2zM589 528h1v1h-1zM593 528h2v1h-2zM616 528h2v1h-2zM619 528h1v1h-1zM635 528h2v1h-2zM644 528h1v1h-1zM651 528h1v1h-1zM740 528h2v1h-2zM747 528h1v1h-1zM754 528h5v1h-5zM764 528h3v1h-3zM769 528h2v1h-2zM779 528h1v1h-1zM862 528h1v1h-1zM869 528h1v1h-1zM872 528h1v1h-1zM877 528h2v1h-2zM30 530h1v1h-1zM58 530h9v1h-9zM73 530h1v1h-1zM83 530h2v1h-2zM202 530h1v1h-1zM216 530h3v1h-3zM314 530h1v1h-1zM319 530h1v1h-1zM389 530h2v1h-2zM406 530h1v1h-1zM414 530h1v1h-1zM416 530h2v1h-2zM479 530h4v1h-4zM526 530h2v1h-2zM590 530h2v1h-2zM595 530h1v1h-1zM603 530h1v1h-1zM613 530h2v1h-2zM638 530h6v1h-6zM653 530h1v1h-1zM727 530h2v1h-2zM730 530h3v1h-3zM737 530h2v1h-2zM749 530h1v1h-1zM752 530h1v1h-1zM771 530h1v1h-1zM778 530h1v1h-1zM864 530h1v1h-1zM867 530h1v1h-1zM874 530h2v1h-2zM881 530h2v1h-2zM892 530h2v1h-2zM261 515h2v1h-2zM264 515h2v1h-2zM277 515h1v1h-1zM280 515h1v1h-1zM294 515h5v1h-5zM305 515h1v1h-1zM814 515h2v1h-2zM840 515h2v1h-2zM843 515h1v1h-1zM44 521h3v1h-3zM53 521h1v1h-1zM224 521h1v1h-1zM230 521h2v1h-2zM243 521h1v1h-1zM310 521h1v1h-1zM335 521h1v1h-1zM344 521h1v1h-1zM351 521h1v1h-1zM363 521h1v1h-1zM492 521h1v1h-1zM496 521h2v1h-2zM586 521h1v1h-1zM626 521h1v1h-1zM628 521h1v1h-1zM791 521h2v1h-2zM819 521h1v1h-1zM828 521h2v1h-2zM853 521h1v1h-1zM104 537h2v1h-2zM183 537h2v1h-2zM188 537h2v1h-2zM398 537h1v1h-1zM402 537h2v1h-2zM434 537h1v1h-1zM447 537h3v1h-3zM468 537h1v1h-1zM667 537h7v1h-7zM710 537h3v1h-3zM715 537h2v1h-2zM723 537h1v1h-1zM774 537h2v1h-2zM907 537h2v1h-2zM8 524h3v1h-3zM26 524h1v1h-1zM37 524h2v1h-2zM55 524h1v1h-1zM78 524h1v1h-1zM222 524h1v1h-1zM236 524h2v1h-2zM239 524h2v1h-2zM312 524h1v1h-1zM332 524h1v1h-1zM346 524h1v1h-1zM348 524h1v1h-1zM366 524h2v1h-2zM490 524h1v1h-1zM502 524h2v1h-2zM517 524h1v1h-1zM520 524h3v1h-3zM568 524h11v1h-11zM584 524h1v1h-1zM587 524h1v1h-1zM623 524h1v1h-1zM629 524h1v1h-1zM781 524h1v1h-1zM821 524h1v1h-1zM825 524h1v1h-1zM855 524h2v1h-2zM12 526h4v1h-4zM19 526h3v1h-3zM23 526h2v1h-2zM27 526h1v1h-1zM35 526h1v1h-1zM56 526h1v1h-1zM76 526h1v1h-1zM80 526h1v1h-1zM220 526h1v1h-1zM312 526h1v1h-1zM324 526h1v1h-1zM328 526h3v1h-3zM370 526h2v1h-2zM488 526h1v1h-1zM505 526h3v1h-3zM516 526h1v1h-1zM523 526h1v1h-1zM539 526h2v1h-2zM543 526h3v1h-3zM549 526h4v1h-4zM564 526h2v1h-2zM580 526h2v1h-2zM583 526h1v1h-1zM588 526h1v1h-1zM621 526h1v1h-1zM631 526h2v1h-2zM645 526h1v1h-1zM647 526h2v1h-2zM743 526h4v1h-4zM780 526h1v1h-1zM822 526h2v1h-2zM859 526h2v1h-2zM870 526h1v1h-1zM22 527h1v1h-1zM28 527h1v1h-1zM34 527h1v1h-1zM56 527h1v1h-1zM76 527h1v1h-1zM80 527h1v1h-1zM220 527h1v1h-1zM313 527h1v1h-1zM323 527h1v1h-1zM372 527h8v1h-8zM486 527h2v1h-2zM508 527h1v1h-1zM515 527h1v1h-1zM524 527h1v1h-1zM537 527h2v1h-2zM546 527h3v1h-3zM553 527h2v1h-2zM562 527h2v1h-2zM582 527h1v1h-1zM589 527h1v1h-1zM620 527h1v1h-1zM633 527h2v1h-2zM645 527h1v1h-1zM649 527h2v1h-2zM742 527h1v1h-1zM747 527h1v1h-1zM759 527h5v1h-5zM780 527h1v1h-1zM822 527h1v1h-1zM861 527h1v1h-1zM869 527h1v1h-1zM871 527h1v1h-1zM108 539h1v1h-1zM114 539h7v1h-7zM168 539h2v1h-2zM173 539h1v1h-1zM180 539h1v1h-1zM436 539h1v1h-1zM444 539h1v1h-1zM454 539h4v1h-4zM464 539h4v1h-4zM679 539h2v1h-2zM693 539h2v1h-2zM698 539h4v1h-4zM705 539h2v1h-2zM719 539h4v1h-4zM910 539h2v1h-2zM917 539h1v1h-1zM919 539h1v1h-1zM95 534h2v1h-2zM193 534h1v1h-1zM195 534h2v1h-2zM200 534h1v1h-1zM395 534h1v1h-1zM404 534h1v1h-1zM421 534h1v1h-1zM429 534h2v1h-2zM470 534h1v1h-1zM473 534h3v1h-3zM598 534h1v1h-1zM606 534h2v1h-2zM657 534h3v1h-3zM724 534h1v1h-1zM772 534h1v1h-1zM776 534h1v1h-1zM900 534h2v1h-2zM97 535h4v1h-4zM191 535h2v1h-2zM197 535h1v1h-1zM199 535h1v1h-1zM396 535h1v1h-1zM404 535h1v1h-1zM422 535h1v1h-1zM425 535h4v1h-4zM431 535h1v1h-1zM470 535h1v1h-1zM660 535h1v1h-1zM724 535h1v1h-1zM773 535h1v1h-1zM776 535h1v1h-1zM902 535h2v1h-2zM225 518h1v1h-1zM227 518h1v1h-1zM251 518h2v1h-2zM269 518h2v1h-2zM275 518h1v1h-1zM281 518h1v1h-1zM284 518h3v1h-3zM308 518h1v1h-1zM339 518h2v1h-2zM356 518h3v1h-3zM361 518h1v1h-1zM797 518h9v1h-9zM817 518h1v1h-1zM834 518h2v1h-2zM847 518h2v1h-2zM851 518h1v1h-1zM109 540h2v1h-2zM112 540h2v1h-2zM121 540h3v1h-3zM166 540h2v1h-2zM174 540h3v1h-3zM178 540h2v1h-2zM437 540h2v1h-2zM443 540h1v1h-1zM458 540h6v1h-6zM681 540h3v1h-3zM691 540h2v1h-2zM702 540h3v1h-3zM912 540h2v1h-2zM916 540h1v1h-1zM920 540h1v1h-1zM71 533h1v1h-1zM93 533h2v1h-2zM194 533h1v1h-1zM200 533h1v1h-1zM394 533h1v1h-1zM405 533h1v1h-1zM410 533h1v1h-1zM420 533h1v1h-1zM471 533h2v1h-2zM476 533h1v1h-1zM597 533h1v1h-1zM599 533h1v1h-1zM605 533h1v1h-1zM608 533h2v1h-2zM656 533h1v1h-1zM725 533h1v1h-1zM772 533h1v1h-1zM777 533h1v1h-1zM887 533h1v1h-1zM898 533h2v1h-2zM101 536h3v1h-3zM185 536h3v1h-3zM190 536h1v1h-1zM198 536h1v1h-1zM397 536h1v1h-1zM403 536h1v1h-1zM423 536h2v1h-2zM432 536h2v1h-2zM469 536h1v1h-1zM661 536h6v1h-6zM713 536h2v1h-2zM724 536h1v1h-1zM773 536h1v1h-1zM775 536h1v1h-1zM904 536h3v1h-3zM40 522h4v1h-4zM54 522h1v1h-1zM223 522h1v1h-1zM232 522h3v1h-3zM242 522h1v1h-1zM310 522h1v1h-1zM334 522h1v1h-1zM345 522h1v1h-1zM350 522h1v1h-1zM364 522h1v1h-1zM491 522h1v1h-1zM498 522h2v1h-2zM585 522h2v1h-2zM625 522h1v1h-1zM628 522h1v1h-1zM786 522h5v1h-5zM820 522h1v1h-1zM827 522h1v1h-1zM853 522h1v1h-1zM68 532h3v1h-3zM72 532h1v1h-1zM87 532h6v1h-6zM201 532h1v1h-1zM393 532h1v1h-1zM405 532h1v1h-1zM408 532h2v1h-2zM411 532h1v1h-1zM419 532h1v1h-1zM477 532h1v1h-1zM597 532h1v1h-1zM600 532h2v1h-2zM604 532h1v1h-1zM610 532h2v1h-2zM655 532h1v1h-1zM726 532h1v1h-1zM734 532h2v1h-2zM750 532h1v1h-1zM772 532h1v1h-1zM777 532h1v1h-1zM866 532h1v1h-1zM885 532h2v1h-2zM888 532h2v1h-2zM896 532h2v1h-2zM128 544h2v1h-2zM134 544h12v1h-12zM153 544h1v1h-1zM106 538h2v1h-2zM170 538h3v1h-3zM181 538h2v1h-2zM399 538h3v1h-3zM435 538h1v1h-1zM445 538h2v1h-2zM450 538h4v1h-4zM468 538h1v1h-1zM674 538h5v1h-5zM695 538h3v1h-3zM707 538h3v1h-3zM717 538h2v1h-2zM722 538h1v1h-1zM774 538h1v1h-1zM909 538h1v1h-1zM918 538h1v1h-1zM67 531h1v1h-1zM73 531h1v1h-1zM85 531h2v1h-2zM202 531h1v1h-1zM315 531h4v1h-4zM391 531h2v1h-2zM406 531h2v1h-2zM412 531h2v1h-2zM418 531h1v1h-1zM478 531h1v1h-1zM596 531h1v1h-1zM602 531h1v1h-1zM604 531h1v1h-1zM612 531h1v1h-1zM654 531h1v1h-1zM726 531h1v1h-1zM733 531h1v1h-1zM736 531h1v1h-1zM749 531h1v1h-1zM751 531h1v1h-1zM771 531h1v1h-1zM778 531h1v1h-1zM865 531h1v1h-1zM867 531h1v1h-1zM883 531h2v1h-2zM890 531h2v1h-2zM894 531h2v1h-2zM131 546h2v1h-2zM148 546h2v1h-2zM152 546h1v1h-1zM29 529h1v1h-1zM31 529h1v1h-1zM58 529h1v1h-1zM74 529h1v1h-1zM82 529h1v1h-1zM203 529h1v1h-1zM212 529h4v1h-4zM219 529h1v1h-1zM314 529h1v1h-1zM320 529h1v1h-1zM383 529h2v1h-2zM387 529h2v1h-2zM415 529h1v1h-1zM483 529h2v1h-2zM525 529h1v1h-1zM528 529h1v1h-1zM533 529h2v1h-2zM558 529h2v1h-2zM590 529h1v1h-1zM592 529h1v1h-1zM595 529h1v1h-1zM615 529h1v1h-1zM618 529h1v1h-1zM637 529h1v1h-1zM644 529h1v1h-1zM652 529h1v1h-1zM729 529h1v1h-1zM739 529h1v1h-1zM748 529h1v1h-1zM753 529h1v1h-1zM767 529h2v1h-2zM770 529h1v1h-1zM779 529h1v1h-1zM863 529h1v1h-1zM868 529h1v1h-1zM873 529h1v1h-1zM876 529h1v1h-1zM879 529h2v1h-2zM255 516h2v1h-2zM259 516h2v1h-2zM266 516h2v1h-2zM276 516h1v1h-1zM280 516h1v1h-1zM290 516h4v1h-4zM306 516h2v1h-2zM811 516h3v1h-3zM816 516h1v1h-1zM838 516h2v1h-2zM844 516h2v1h-2zM50 519h1v1h-1zM225 519h1v1h-1zM228 519h1v1h-1zM246 519h5v1h-5zM271 519h5v1h-5zM282 519h2v1h-2zM309 519h1v1h-1zM338 519h1v1h-1zM341 519h1v1h-1zM354 519h2v1h-2zM362 519h1v1h-1zM795 519h2v1h-2zM818 519h1v1h-1zM832 519h2v1h-2zM851 519h1v1h-1zM263 514h1v1h-1zM277 514h1v1h-1zM279 514h1v1h-1zM299 514h6v1h-6zM842 514h1v1h-1zM111 541h1v1h-1zM124 541h1v1h-1zM155 541h11v1h-11zM177 541h1v1h-1zM439 541h1v1h-1zM441 541h2v1h-2zM684 541h2v1h-2zM689 541h2v1h-2zM914 541h2v1h-2zM921 541h1v1h-1zM125 542h2v1h-2zM154 542h1v1h-1zM440 542h1v1h-1zM686 542h3v1h-3zM922 542h5v1h-5zM7 523h1v1h-1zM39 523h1v1h-1zM54 523h1v1h-1zM222 523h1v1h-1zM235 523h1v1h-1zM241 523h1v1h-1zM311 523h1v1h-1zM333 523h1v1h-1zM346 523h1v1h-1zM349 523h1v1h-1zM365 523h1v1h-1zM490 523h1v1h-1zM500 523h2v1h-2zM518 523h2v1h-2zM585 523h1v1h-1zM587 523h1v1h-1zM624 523h1v1h-1zM629 523h1v1h-1zM782 523h4v1h-4zM820 523h1v1h-1zM826 523h1v1h-1zM854 523h1v1h-1zM47 520h3v1h-3zM51 520h2v1h-2zM224 520h1v1h-1zM229 520h1v1h-1zM244 520h2v1h-2zM309 520h1v1h-1zM336 520h2v1h-2zM342 520h2v1h-2zM352 520h2v1h-2zM363 520h1v1h-1zM493 520h3v1h-3zM627 520h1v1h-1zM793 520h2v1h-2zM819 520h1v1h-1zM830 520h2v1h-2zM852 520h1v1h-1zM226 517h1v1h-1zM253 517h2v1h-2zM257 517h2v1h-2zM268 517h1v1h-1zM276 517h1v1h-1zM281 517h1v1h-1zM287 517h3v1h-3zM308 517h1v1h-1zM359 517h2v1h-2zM806 517h5v1h-5zM817 517h1v1h-1zM836 517h2v1h-2zM846 517h1v1h-1zM849 517h2v1h-2zM278 513h2v1h-2zM130 545h1v1h-1zM133 545h1v1h-1zM146 545h2v1h-2zM152 545h1v1h-1zM150 547h2v1h-2zM127 543h1v1h-1zM154 543h1v1h-1zM278 512h1v1h-1z" fill="#1e90ff"/><rect x="1169" y="50" width="2" height="1" fill="#000"/><rect x="1169" y="83" width="2" height="1" fill="#000"/><rect x="1169" y="116" width="2" height="1" fill="#000"/><rect x="1169" y="149" width="2" height="1" fill="#000"/><rect x="1169" y="182" width="2" height="1" fill="#000"/><rect x="1169" y="215" width="2" height="1" fill="#000"/><rect x="1169" y="347" width="2" height="1" fill="#000"/><rect x="1169" y="380" width="2" height="1" fill="#000"/><rect x="1169" y="413" width="2" height="1" fill="#000"/><rect x="1169" y="420" width="1" height="1" fill="#000"/><rect x="1169" y="457" width="1" height="1" fill="#000"/><rect x="1169" y="489" width="1" height="1" fill="#000"/><rect x="1169" y="494" width="1" height="1" fill="#000"/><rect x="6" y="567" width="1" height="3" fill="#000"/><rect x="70" y="567" width="1" height="3" fill="#000"/><rect x="134" y="567" width="1" height="3" fill="#000"/><rect x="198" y="567" width="1" height="3" fill="#000"/><rect x="262" y="567" width="1" height="3" fill="#000"/><rect x="326" y="567" width="1" height="3" fill="#000"/><rect x="390" y="567" width="1" height="3" fill="#000"/><rect x="454" y="567" width="1" height="3" fill="#000"/><rect x="518" y="567" width="1" height="3" fill="#000"/><rect x="582" y="567" width="1" height="3" fill="#000"/><rect x="646" y="567" width="1" height="3" fill="#000"/><rect x="710" y="567" width="1" height="3" fill="#000"/><rect x="774" y="567" width="1" height="3" fill="#000"/><rect x="838" y="567" width="1" height="3" fill="#000"/><rect x="902" y="567" width="1" height="3" fill="#000"/><polygon points="1187.3,594.8 1187.3,601.3 1183.6,598" fill="#000" shape-rendering="geometricPrecision"/><polygon points="1202.8,594.8 1202.8,601.3 1206.2,598" fill="#a8a8a8" shape-rendering="geometricPrecision"/><polygon points="8,32 16,32 12,36" fill="#000"/></svg>
<div class="t ax" style="left:1174px;top:43.5px;">1.30630</div><div class="t ax" style="left:1174px;top:76.5px;">1.29910</div><div class="t ax" style="left:1174px;top:109.5px;">1.29190</div><div class="t ax" style="left:1174px;top:142.5px;">1.28470</div><div class="t ax" style="left:1174px;top:175.5px;">1.27750</div><div class="t ax" style="left:1174px;top:208.5px;">1.27030</div><div class="t ax" style="left:1174px;top:274.5px;">1.25610</div><div class="t ax" style="left:1174px;top:307.5px;">1.24890</div><div class="t ax" style="left:1174px;top:340.5px;">1.24170</div><div class="t ax" style="left:1174px;top:373.5px;">1.23450</div><div class="t ax" style="left:1174px;top:406.5px;">1.22730</div><div class="box" style="top:58px;background:#ff0000;color:#fff"><span>1.30328</span></div><div class="box" style="top:123px;background:#ff0000;color:#fff"><span>1.28912</span></div><div class="box" style="top:187px;background:#00ff00;color:#fff"><span>1.27515</span></div><div class="box" style="top:243px;background:#0000ff;color:#fff"><span>1.26303</span></div><div class="box" style="top:312px;background:#0000ff;color:#fff"><span>1.24800</span></div><div class="box" style="top:386px;background:#0000ff;color:#fff"><span>1.23203</span></div><div class="box" style="top:271px;background:#000;color:#fff"><span>1.25711</span></div><div class="t ax" style="left:1172px;top:418.5px;">0.010578</div><div class="t ax" style="left:1172px;top:450.5px;">0.00</div><div class="t ax" style="left:1172px;top:476.5px;">-0.00896</div><div class="t ax" style="left:1172px;top:492.5px;">100</div><div class="t ax" style="left:1172px;top:508.5px;">70</div><div class="t ax" style="left:1172px;top:537.5px;">30</div><div class="t ax" style="left:1172px;top:552.5px;">0</div><div class="t ttl" style="left:20.6px;top:26.5px;font-size:9.8px;letter-spacing:0.06px">USDCAD-,Daily</div><div class="t ttl" style="left:95.8px;top:26.5px;font-size:9.8px;letter-spacing:-0.23px">1.25720 1.25776 1.25568 1.25711</div><div class="t ttl" style="left:10px;top:420.5px;font-size:9.8px;letter-spacing:-0.25px">MACD(12,26,9) -0.005357 -0.001839</div><div class="t ttl" style="left:10px;top:494.5px;font-size:9.8px;letter-spacing:-0.3px">RSI(14) 33.2302</div><div class="t dt" style="left:5px;top:567.5px;">8 Sep 2021</div><div class="t dt" style="left:69px;top:567.5px;">27 Sep 2021</div><div class="t dt" style="left:133px;top:567.5px;">15 Oct 2021</div><div class="t dt" style="left:197px;top:567.5px;">3 Nov 2021</div><div class="t dt" style="left:261px;top:567.5px;">22 Nov 2021</div><div class="t dt" style="left:325px;top:567.5px;">10 Dec 2021</div><div class="t dt" style="left:389px;top:567.5px;">29 Dec 2021</div><div class="t dt" style="left:453px;top:567.5px;">17 Jan 2022</div><div class="t dt" style="left:517px;top:567.5px;">4 Feb 2022</div><div class="t dt" style="left:581px;top:567.5px;">23 Feb 2022</div><div class="t dt" style="left:645px;top:567.5px;">14 Mar 2022</div><div class="t dt" style="left:709px;top:567.5px;">1 Apr 2022</div><div class="t dt" style="left:773px;top:567.5px;">20 Apr 2022</div><div class="t dt" style="left:837px;top:567.5px;">9 May 2022</div><div class="t dt" style="left:901px;top:567.5px;">27 May 2022</div>
</body></html>
